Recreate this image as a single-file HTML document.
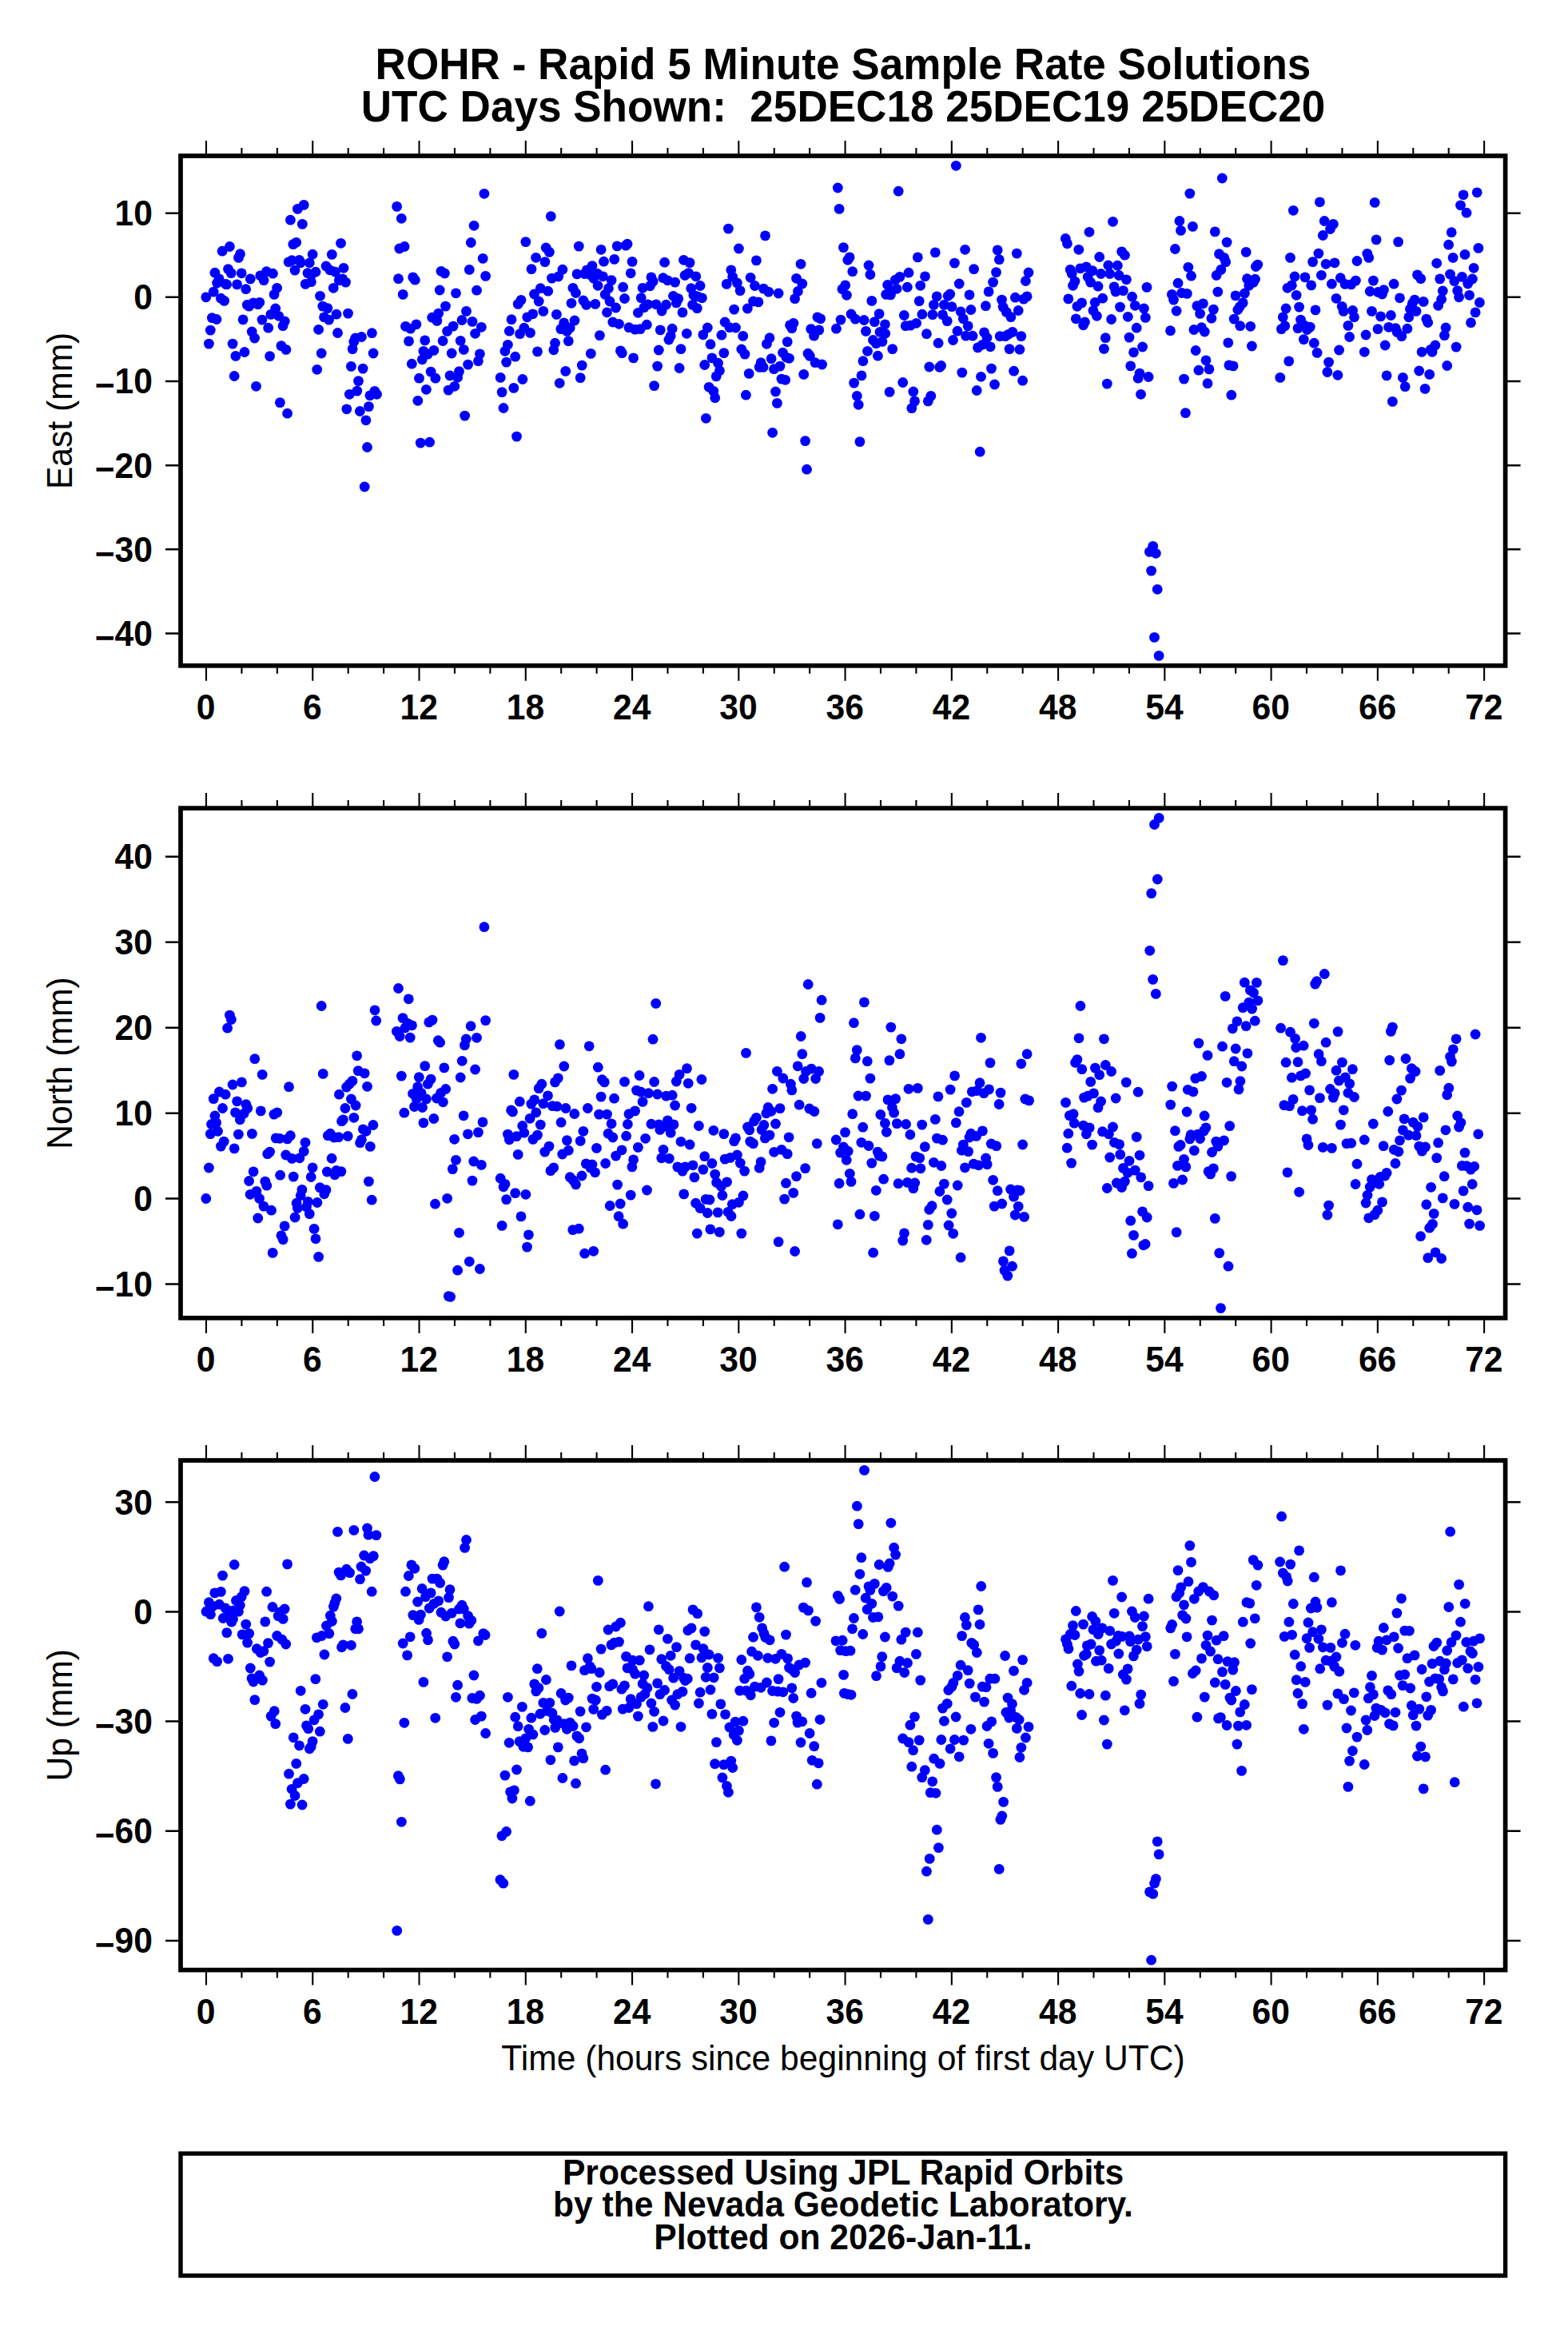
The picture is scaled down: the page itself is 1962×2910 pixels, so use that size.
<!DOCTYPE html>
<html lang="en">
<head>
<meta charset="utf-8">
<title>ROHR - Rapid 5 Minute Sample Rate Solutions</title>
<style>
html,body{margin:0;padding:0;background:#fff;}
body{width:1962px;height:2910px;overflow:hidden;}
svg{display:block;}
text{font-family:"Liberation Sans",sans-serif;fill:#000;}
.b{font-weight:bold;}
.t{font-size:53.1px;font-weight:bold;text-anchor:middle;}
.l{font-size:42.6px;}
.m{text-anchor:middle;}
.e{text-anchor:end;}
.fr{fill:none;stroke:#000;stroke-width:5.7;}
.tk{fill:none;stroke:#000;stroke-width:2.1;}
.d circle{fill:#00f;}
</style>
</head>
<body>
<svg width="1962" height="2910" viewBox="0 0 1962 2910">
<rect x="0" y="0" width="1962" height="2910" fill="#fff"/>
<text class="t" transform="translate(1055.0 98.7) scale(1 1.035)">ROHR - Rapid 5 Minute Sample Rate Solutions</text>
<text class="t" transform="translate(1055.0 151.7) scale(1 1.035)" xml:space="preserve" style="white-space:pre">UTC Days Shown:  25DEC18 25DEC19 25DEC20</text>
<g id="panel1">
<g class="d"><circle cx="257.8" cy="371.8" r="6.4"/><circle cx="261.4" cy="430.1" r="6.4"/><circle cx="263.3" cy="413.1" r="6.4"/><circle cx="265.3" cy="397.6" r="6.4"/><circle cx="267.2" cy="365.1" r="6.4"/><circle cx="268.9" cy="341.2" r="6.4"/><circle cx="271" cy="399.5" r="6.4"/><circle cx="271.6" cy="354" r="6.4"/><circle cx="274.1" cy="348.9" r="6.4"/><circle cx="276.4" cy="373.2" r="6.4"/><circle cx="278.1" cy="314.2" r="6.4"/><circle cx="280.6" cy="376.4" r="6.4"/><circle cx="282.1" cy="355.3" r="6.4"/><circle cx="283.6" cy="355.9" r="6.4"/><circle cx="285.5" cy="336.6" r="6.4"/><circle cx="287.4" cy="308.5" r="6.4"/><circle cx="289.2" cy="341.6" r="6.4"/><circle cx="291.1" cy="430.1" r="6.4"/><circle cx="293.2" cy="470.5" r="6.4"/><circle cx="294.9" cy="445.4" r="6.4"/><circle cx="296.6" cy="355.9" r="6.4"/><circle cx="298.5" cy="322.4" r="6.4"/><circle cx="300.5" cy="317.7" r="6.4"/><circle cx="302.2" cy="341.8" r="6.4"/><circle cx="304.1" cy="399.9" r="6.4"/><circle cx="306" cy="440.5" r="6.4"/><circle cx="307.7" cy="361.7" r="6.4"/><circle cx="309.3" cy="381.4" r="6.4"/><circle cx="311.7" cy="383.1" r="6.4"/><circle cx="313.3" cy="349" r="6.4"/><circle cx="315.2" cy="415" r="6.4"/><circle cx="317.1" cy="378.9" r="6.4"/><circle cx="318.6" cy="423" r="6.4"/><circle cx="320.5" cy="483.3" r="6.4"/><circle cx="322.8" cy="380.8" r="6.4"/><circle cx="324.8" cy="378.3" r="6.4"/><circle cx="325.7" cy="344.8" r="6.4"/><circle cx="328" cy="400.1" r="6.4"/><circle cx="330.1" cy="350.6" r="6.4"/><circle cx="333.4" cy="339.7" r="6.4"/><circle cx="335.7" cy="410.2" r="6.4"/><circle cx="337.6" cy="445.6" r="6.4"/><circle cx="338.9" cy="393.4" r="6.4"/><circle cx="341.4" cy="342.2" r="6.4"/><circle cx="343.1" cy="368.4" r="6.4"/><circle cx="344.7" cy="386" r="6.4"/><circle cx="346.6" cy="360.3" r="6.4"/><circle cx="348.7" cy="395.3" r="6.4"/><circle cx="350.4" cy="503.6" r="6.4"/><circle cx="351.9" cy="432.6" r="6.4"/><circle cx="354" cy="407.7" r="6.4"/><circle cx="356.3" cy="402" r="6.4"/><circle cx="357.9" cy="437.4" r="6.4"/><circle cx="359.6" cy="517.2" r="6.4"/><circle cx="361.1" cy="327.8" r="6.4"/><circle cx="363.4" cy="275.2" r="6.4"/><circle cx="365.3" cy="325.7" r="6.4"/><circle cx="366.8" cy="305.6" r="6.4"/><circle cx="369" cy="338.1" r="6.4"/><circle cx="370.7" cy="303.3" r="6.4"/><circle cx="372.4" cy="261.4" r="6.4"/><circle cx="374.5" cy="325.3" r="6.4"/><circle cx="376.2" cy="328.8" r="6.4"/><circle cx="378.3" cy="280.4" r="6.4"/><circle cx="380.2" cy="256.4" r="6.4"/><circle cx="382.2" cy="355.4" r="6.4"/><circle cx="385" cy="341.6" r="6.4"/><circle cx="387.3" cy="328.8" r="6.4"/><circle cx="389.4" cy="352.7" r="6.4"/><circle cx="389.8" cy="343.5" r="6.4"/><circle cx="391.1" cy="318.2" r="6.4"/><circle cx="395" cy="340.2" r="6.4"/><circle cx="396.7" cy="462.3" r="6.4"/><circle cx="398.6" cy="412.3" r="6.4"/><circle cx="400.5" cy="370.3" r="6.4"/><circle cx="402.2" cy="442" r="6.4"/><circle cx="403.8" cy="383.1" r="6.4"/><circle cx="405.5" cy="396.8" r="6.4"/><circle cx="408" cy="333" r="6.4"/><circle cx="409.9" cy="385.6" r="6.4"/><circle cx="411.6" cy="400.1" r="6.4"/><circle cx="412.8" cy="337.8" r="6.4"/><circle cx="415.3" cy="318.4" r="6.4"/><circle cx="417.2" cy="360.3" r="6.4"/><circle cx="419.5" cy="340.2" r="6.4"/><circle cx="421" cy="393.2" r="6.4"/><circle cx="422.5" cy="416.5" r="6.4"/><circle cx="424.2" cy="350.8" r="6.4"/><circle cx="426.5" cy="304.3" r="6.4"/><circle cx="428.6" cy="348.9" r="6.4"/><circle cx="430" cy="335.3" r="6.4"/><circle cx="432.5" cy="353.1" r="6.4"/><circle cx="433.8" cy="511.8" r="6.4"/><circle cx="435.5" cy="392.1" r="6.4"/><circle cx="437.3" cy="493.3" r="6.4"/><circle cx="439.4" cy="458.4" r="6.4"/><circle cx="441.1" cy="436.6" r="6.4"/><circle cx="442.8" cy="427.4" r="6.4"/><circle cx="444.7" cy="423" r="6.4"/><circle cx="446.8" cy="489.1" r="6.4"/><circle cx="448.5" cy="476.6" r="6.4"/><circle cx="450.3" cy="514.5" r="6.4"/><circle cx="452.4" cy="421.5" r="6.4"/><circle cx="454.1" cy="461.1" r="6.4"/><circle cx="456.2" cy="609" r="6.4"/><circle cx="457.9" cy="525.8" r="6.4"/><circle cx="459.5" cy="559.5" r="6.4"/><circle cx="461.4" cy="508.6" r="6.4"/><circle cx="462.9" cy="494.8" r="6.4"/><circle cx="465.4" cy="416.7" r="6.4"/><circle cx="467.1" cy="442" r="6.4"/><circle cx="468.8" cy="489.4" r="6.4"/><circle cx="471.5" cy="493.3" r="6.4"/><circle cx="496.6" cy="258.4" r="6.4"/><circle cx="498.5" cy="348.7" r="6.4"/><circle cx="499.8" cy="311" r="6.4"/><circle cx="502.3" cy="273.3" r="6.4"/><circle cx="504.2" cy="368.4" r="6.4"/><circle cx="506.1" cy="308.5" r="6.4"/><circle cx="507.5" cy="408.3" r="6.4"/><circle cx="511.5" cy="426.9" r="6.4"/><circle cx="513.6" cy="411.2" r="6.4"/><circle cx="515.3" cy="455.2" r="6.4"/><circle cx="516.7" cy="346.9" r="6.4"/><circle cx="519.3" cy="350.2" r="6.4"/><circle cx="520.9" cy="405.8" r="6.4"/><circle cx="522.8" cy="501.3" r="6.4"/><circle cx="524.5" cy="473.2" r="6.4"/><circle cx="526.2" cy="554.1" r="6.4"/><circle cx="528.3" cy="449.8" r="6.4"/><circle cx="529.9" cy="439.3" r="6.4"/><circle cx="531.7" cy="425.9" r="6.4"/><circle cx="533.4" cy="487.3" r="6.4"/><circle cx="535.3" cy="443.1" r="6.4"/><circle cx="537.6" cy="553.2" r="6.4"/><circle cx="539.1" cy="465.1" r="6.4"/><circle cx="540.7" cy="397.2" r="6.4"/><circle cx="542.8" cy="438.4" r="6.4"/><circle cx="544.9" cy="473.2" r="6.4"/><circle cx="546.8" cy="401.4" r="6.4"/><circle cx="548.7" cy="392.1" r="6.4"/><circle cx="550.2" cy="363" r="6.4"/><circle cx="552" cy="339.3" r="6.4"/><circle cx="554.1" cy="426.5" r="6.4"/><circle cx="556.4" cy="342" r="6.4"/><circle cx="557.5" cy="383.1" r="6.4"/><circle cx="559.6" cy="414.4" r="6.4"/><circle cx="561.1" cy="488.1" r="6.4"/><circle cx="563" cy="469.9" r="6.4"/><circle cx="565.2" cy="442" r="6.4"/><circle cx="567.1" cy="408.1" r="6.4"/><circle cx="568.8" cy="483.3" r="6.4"/><circle cx="570.5" cy="366.8" r="6.4"/><circle cx="572.6" cy="472.2" r="6.4"/><circle cx="574.5" cy="464.6" r="6.4"/><circle cx="576.2" cy="426.3" r="6.4"/><circle cx="578" cy="400.5" r="6.4"/><circle cx="580.3" cy="437.4" r="6.4"/><circle cx="581.6" cy="520.1" r="6.4"/><circle cx="583.5" cy="389.4" r="6.4"/><circle cx="585.6" cy="456.1" r="6.4"/><circle cx="587.3" cy="337.4" r="6.4"/><circle cx="589.3" cy="303.5" r="6.4"/><circle cx="591" cy="402.4" r="6.4"/><circle cx="593.1" cy="282.3" r="6.4"/><circle cx="594.6" cy="417.3" r="6.4"/><circle cx="596.5" cy="363.2" r="6.4"/><circle cx="598.4" cy="451.7" r="6.4"/><circle cx="600.4" cy="442.8" r="6.4"/><circle cx="602.3" cy="409.3" r="6.4"/><circle cx="604.2" cy="323.4" r="6.4"/><circle cx="605.9" cy="242.3" r="6.4"/><circle cx="607.6" cy="345.4" r="6.4"/><circle cx="626.2" cy="472.4" r="6.4"/><circle cx="628.1" cy="490.6" r="6.4"/><circle cx="630" cy="510.5" r="6.4"/><circle cx="631.9" cy="439.3" r="6.4"/><circle cx="633.6" cy="453.1" r="6.4"/><circle cx="635.4" cy="431.3" r="6.4"/><circle cx="637.3" cy="414.2" r="6.4"/><circle cx="640" cy="399.7" r="6.4"/><circle cx="642.8" cy="485.4" r="6.4"/><circle cx="644.7" cy="446.2" r="6.4"/><circle cx="646.5" cy="546.1" r="6.4"/><circle cx="648.2" cy="380.4" r="6.4"/><circle cx="650.5" cy="417.7" r="6.4"/><circle cx="652" cy="375.4" r="6.4"/><circle cx="653.9" cy="474.5" r="6.4"/><circle cx="655.8" cy="410.2" r="6.4"/><circle cx="657.8" cy="302.6" r="6.4"/><circle cx="659.7" cy="396.8" r="6.4"/><circle cx="663.5" cy="416.4" r="6.4"/><circle cx="665" cy="336.6" r="6.4"/><circle cx="666.7" cy="392.8" r="6.4"/><circle cx="668.5" cy="368" r="6.4"/><circle cx="670.6" cy="322.3" r="6.4"/><circle cx="672.5" cy="439.9" r="6.4"/><circle cx="674.2" cy="377" r="6.4"/><circle cx="676.3" cy="360.7" r="6.4"/><circle cx="679.8" cy="389.4" r="6.4"/><circle cx="681.9" cy="327.6" r="6.4"/><circle cx="683.2" cy="310" r="6.4"/><circle cx="685.7" cy="364.2" r="6.4"/><circle cx="687.4" cy="315.4" r="6.4"/><circle cx="689.3" cy="270.6" r="6.4"/><circle cx="690.5" cy="348.1" r="6.4"/><circle cx="692.8" cy="437.8" r="6.4"/><circle cx="694.5" cy="429.2" r="6.4"/><circle cx="696.4" cy="393.4" r="6.4"/><circle cx="698.7" cy="346" r="6.4"/><circle cx="700.2" cy="479.3" r="6.4"/><circle cx="701.8" cy="411.6" r="6.4"/><circle cx="703.9" cy="337.2" r="6.4"/><circle cx="705.6" cy="403.9" r="6.4"/><circle cx="707.7" cy="464.4" r="6.4"/><circle cx="709.4" cy="414.4" r="6.4"/><circle cx="711.3" cy="426.7" r="6.4"/><circle cx="713.2" cy="410.2" r="6.4"/><circle cx="715" cy="379.3" r="6.4"/><circle cx="716.9" cy="360.3" r="6.4"/><circle cx="719" cy="401" r="6.4"/><circle cx="720.5" cy="366.5" r="6.4"/><circle cx="722" cy="342.9" r="6.4"/><circle cx="724.3" cy="308.1" r="6.4"/><circle cx="726.2" cy="472.6" r="6.4"/><circle cx="728.2" cy="457.1" r="6.4"/><circle cx="729.9" cy="376" r="6.4"/><circle cx="731.4" cy="342.5" r="6.4"/><circle cx="733.7" cy="381.4" r="6.4"/><circle cx="734.3" cy="337.8" r="6.4"/><circle cx="738.1" cy="343.5" r="6.4"/><circle cx="739.3" cy="442.4" r="6.4"/><circle cx="741" cy="332.6" r="6.4"/><circle cx="742.9" cy="348.3" r="6.4"/><circle cx="744.8" cy="380.4" r="6.4"/><circle cx="747.7" cy="342.5" r="6.4"/><circle cx="748.1" cy="357.3" r="6.4"/><circle cx="750.4" cy="419.6" r="6.4"/><circle cx="752.1" cy="312.3" r="6.4"/><circle cx="754.4" cy="345.8" r="6.4"/><circle cx="755.5" cy="327.2" r="6.4"/><circle cx="757.2" cy="368.4" r="6.4"/><circle cx="759.5" cy="390.8" r="6.4"/><circle cx="761.5" cy="360.7" r="6.4"/><circle cx="763" cy="377" r="6.4"/><circle cx="765.1" cy="350.6" r="6.4"/><circle cx="766.8" cy="403" r="6.4"/><circle cx="768.7" cy="324.4" r="6.4"/><circle cx="770.6" cy="385" r="6.4"/><circle cx="772.2" cy="307.9" r="6.4"/><circle cx="774.5" cy="405.3" r="6.4"/><circle cx="776.4" cy="438.9" r="6.4"/><circle cx="778.3" cy="441.6" r="6.4"/><circle cx="779.6" cy="359.2" r="6.4"/><circle cx="781.5" cy="373.5" r="6.4"/><circle cx="783.1" cy="307.1" r="6.4"/><circle cx="785" cy="305.2" r="6.4"/><circle cx="786.9" cy="409.7" r="6.4"/><circle cx="789.2" cy="341.8" r="6.4"/><circle cx="791.1" cy="327.4" r="6.4"/><circle cx="792.6" cy="447.9" r="6.4"/><circle cx="794.6" cy="412.1" r="6.4"/><circle cx="798.4" cy="391.3" r="6.4"/><circle cx="801.2" cy="411.6" r="6.4"/><circle cx="802.2" cy="372.6" r="6.4"/><circle cx="804.1" cy="360.3" r="6.4"/><circle cx="806" cy="384.6" r="6.4"/><circle cx="809.3" cy="406.2" r="6.4"/><circle cx="810.8" cy="380.8" r="6.4"/><circle cx="813.4" cy="357.8" r="6.4"/><circle cx="814.9" cy="346.9" r="6.4"/><circle cx="817.2" cy="352.1" r="6.4"/><circle cx="818.6" cy="482.6" r="6.4"/><circle cx="821" cy="380.8" r="6.4"/><circle cx="822.6" cy="458.1" r="6.4"/><circle cx="824.3" cy="438" r="6.4"/><circle cx="826.2" cy="412.9" r="6.4"/><circle cx="828.1" cy="389" r="6.4"/><circle cx="829.7" cy="347.7" r="6.4"/><circle cx="831.6" cy="328.2" r="6.4"/><circle cx="833.5" cy="381.2" r="6.4"/><circle cx="835.4" cy="350.8" r="6.4"/><circle cx="836.9" cy="425" r="6.4"/><circle cx="839.2" cy="420.2" r="6.4"/><circle cx="841.1" cy="411.2" r="6.4"/><circle cx="842.5" cy="370.3" r="6.4"/><circle cx="844.6" cy="353.1" r="6.4"/><circle cx="846.3" cy="378.9" r="6.4"/><circle cx="848.8" cy="373.7" r="6.4"/><circle cx="850.1" cy="460.5" r="6.4"/><circle cx="852" cy="436.6" r="6.4"/><circle cx="854" cy="390.9" r="6.4"/><circle cx="855.5" cy="325.3" r="6.4"/><circle cx="857" cy="344.5" r="6.4"/><circle cx="859.3" cy="417.3" r="6.4"/><circle cx="861.6" cy="341.6" r="6.4"/><circle cx="863.1" cy="328.6" r="6.4"/><circle cx="864.7" cy="360.7" r="6.4"/><circle cx="866.6" cy="381.4" r="6.4"/><circle cx="867.9" cy="369.3" r="6.4"/><circle cx="870.8" cy="345.8" r="6.4"/><circle cx="872.3" cy="385.6" r="6.4"/><circle cx="872.7" cy="370.9" r="6.4"/><circle cx="876.1" cy="357.5" r="6.4"/><circle cx="878.4" cy="372.8" r="6.4"/><circle cx="879.8" cy="418.8" r="6.4"/><circle cx="881.7" cy="456.5" r="6.4"/><circle cx="883.4" cy="523.3" r="6.4"/><circle cx="885.3" cy="410" r="6.4"/><circle cx="887.1" cy="484.3" r="6.4"/><circle cx="889" cy="430.7" r="6.4"/><circle cx="890.9" cy="447.9" r="6.4"/><circle cx="892.8" cy="489.4" r="6.4"/><circle cx="894.7" cy="497.7" r="6.4"/><circle cx="896.2" cy="470.9" r="6.4"/><circle cx="898.5" cy="454.2" r="6.4"/><circle cx="900.4" cy="463.8" r="6.4"/><circle cx="902.9" cy="419.2" r="6.4"/><circle cx="905.8" cy="441.6" r="6.4"/><circle cx="907.1" cy="403" r="6.4"/><circle cx="909.2" cy="355.4" r="6.4"/><circle cx="911.4" cy="286.1" r="6.4"/><circle cx="912.9" cy="409.7" r="6.4"/><circle cx="914.8" cy="337.8" r="6.4"/><circle cx="916.7" cy="346.4" r="6.4"/><circle cx="918.6" cy="387.1" r="6.4"/><circle cx="920.5" cy="410" r="6.4"/><circle cx="922.4" cy="354" r="6.4"/><circle cx="924.4" cy="311" r="6.4"/><circle cx="926.1" cy="363.6" r="6.4"/><circle cx="927.8" cy="437" r="6.4"/><circle cx="929.7" cy="420.4" r="6.4"/><circle cx="932" cy="443.1" r="6.4"/><circle cx="933.4" cy="494.2" r="6.4"/><circle cx="935.3" cy="386" r="6.4"/><circle cx="937.2" cy="467.4" r="6.4"/><circle cx="939.1" cy="347.3" r="6.4"/><circle cx="942.5" cy="377" r="6.4"/><circle cx="944.5" cy="357.5" r="6.4"/><circle cx="946.4" cy="325.9" r="6.4"/><circle cx="948.9" cy="377.9" r="6.4"/><circle cx="950.2" cy="459.4" r="6.4"/><circle cx="952.1" cy="453.7" r="6.4"/><circle cx="955" cy="459.4" r="6.4"/><circle cx="955.4" cy="361.1" r="6.4"/><circle cx="957.5" cy="294.9" r="6.4"/><circle cx="959.4" cy="430.3" r="6.4"/><circle cx="961.7" cy="365.1" r="6.4"/><circle cx="963" cy="422.7" r="6.4"/><circle cx="965.1" cy="448.7" r="6.4"/><circle cx="966.6" cy="541.3" r="6.4"/><circle cx="968.4" cy="461.7" r="6.4"/><circle cx="970.5" cy="490" r="6.4"/><circle cx="972.4" cy="504.4" r="6.4"/><circle cx="974.1" cy="367" r="6.4"/><circle cx="976" cy="458.1" r="6.4"/><circle cx="977.9" cy="474.1" r="6.4"/><circle cx="979.5" cy="441.2" r="6.4"/><circle cx="982.7" cy="475.3" r="6.4"/><circle cx="983.7" cy="447" r="6.4"/><circle cx="985.2" cy="427.6" r="6.4"/><circle cx="987.5" cy="448.3" r="6.4"/><circle cx="988.5" cy="406.8" r="6.4"/><circle cx="990.8" cy="410.6" r="6.4"/><circle cx="992.9" cy="404.3" r="6.4"/><circle cx="994.6" cy="373.7" r="6.4"/><circle cx="996.5" cy="348.3" r="6.4"/><circle cx="998.4" cy="364.5" r="6.4"/><circle cx="1002" cy="330.3" r="6.4"/><circle cx="1003.8" cy="355" r="6.4"/><circle cx="1005.7" cy="468.4" r="6.4"/><circle cx="1007.6" cy="551.6" r="6.4"/><circle cx="1009.5" cy="587.2" r="6.4"/><circle cx="1011" cy="442.2" r="6.4"/><circle cx="1013.3" cy="445.4" r="6.4"/><circle cx="1014.7" cy="411.6" r="6.4"/><circle cx="1018.5" cy="420.2" r="6.4"/><circle cx="1020" cy="453.7" r="6.4"/><circle cx="1022.9" cy="396.8" r="6.4"/><circle cx="1024.8" cy="412.9" r="6.4"/><circle cx="1026.7" cy="398.8" r="6.4"/><circle cx="1028.6" cy="456" r="6.4"/><circle cx="1046.4" cy="411.2" r="6.4"/><circle cx="1048.3" cy="235" r="6.4"/><circle cx="1050.1" cy="261.4" r="6.4"/><circle cx="1052" cy="400.1" r="6.4"/><circle cx="1053.9" cy="361.7" r="6.4"/><circle cx="1055.4" cy="309.6" r="6.4"/><circle cx="1057.7" cy="356.9" r="6.4"/><circle cx="1059.4" cy="369.3" r="6.4"/><circle cx="1060.8" cy="325.3" r="6.4"/><circle cx="1063.1" cy="321.9" r="6.4"/><circle cx="1065" cy="393" r="6.4"/><circle cx="1066.7" cy="339.7" r="6.4"/><circle cx="1068.6" cy="479.1" r="6.4"/><circle cx="1070.2" cy="399.1" r="6.4"/><circle cx="1072.3" cy="495.4" r="6.4"/><circle cx="1074.2" cy="506.3" r="6.4"/><circle cx="1075.9" cy="552.6" r="6.4"/><circle cx="1078" cy="469.9" r="6.4"/><circle cx="1079.9" cy="451.7" r="6.4"/><circle cx="1081.2" cy="400.5" r="6.4"/><circle cx="1083.5" cy="414.4" r="6.4"/><circle cx="1085.5" cy="439.3" r="6.4"/><circle cx="1087" cy="332" r="6.4"/><circle cx="1088.9" cy="343.5" r="6.4"/><circle cx="1090.8" cy="376.4" r="6.4"/><circle cx="1092.4" cy="425.5" r="6.4"/><circle cx="1094.3" cy="402.6" r="6.4"/><circle cx="1096.3" cy="429.7" r="6.4"/><circle cx="1098.4" cy="445.2" r="6.4"/><circle cx="1100.1" cy="392.6" r="6.4"/><circle cx="1101" cy="415.4" r="6.4"/><circle cx="1103.9" cy="427.4" r="6.4"/><circle cx="1107.4" cy="405.8" r="6.4"/><circle cx="1107.7" cy="417.3" r="6.4"/><circle cx="1108.7" cy="368.4" r="6.4"/><circle cx="1110.6" cy="356.5" r="6.4"/><circle cx="1113.1" cy="490.4" r="6.4"/><circle cx="1114.4" cy="368.9" r="6.4"/><circle cx="1115.4" cy="364.5" r="6.4"/><circle cx="1116.7" cy="436.6" r="6.4"/><circle cx="1120.2" cy="350.2" r="6.4"/><circle cx="1122.1" cy="361.3" r="6.4"/><circle cx="1124.2" cy="239.2" r="6.4"/><circle cx="1125.9" cy="346.4" r="6.4"/><circle cx="1129.7" cy="478.5" r="6.4"/><circle cx="1131.3" cy="394.5" r="6.4"/><circle cx="1133.2" cy="407.7" r="6.4"/><circle cx="1135.3" cy="359.2" r="6.4"/><circle cx="1137" cy="341.2" r="6.4"/><circle cx="1139.3" cy="407.2" r="6.4"/><circle cx="1140.8" cy="510.7" r="6.4"/><circle cx="1142.8" cy="490" r="6.4"/><circle cx="1144.5" cy="501.9" r="6.4"/><circle cx="1146.6" cy="404.3" r="6.4"/><circle cx="1148.3" cy="321.9" r="6.4"/><circle cx="1150.2" cy="376.6" r="6.4"/><circle cx="1151.7" cy="357.3" r="6.4"/><circle cx="1153.9" cy="393.2" r="6.4"/><circle cx="1157.5" cy="345.8" r="6.4"/><circle cx="1159.4" cy="417.7" r="6.4"/><circle cx="1161.3" cy="501.9" r="6.4"/><circle cx="1162.8" cy="459" r="6.4"/><circle cx="1164.8" cy="495.4" r="6.4"/><circle cx="1166.9" cy="393.6" r="6.4"/><circle cx="1168.4" cy="381.4" r="6.4"/><circle cx="1170.3" cy="315.9" r="6.4"/><circle cx="1172.2" cy="370.9" r="6.4"/><circle cx="1174.1" cy="429.2" r="6.4"/><circle cx="1175.7" cy="459.4" r="6.4"/><circle cx="1177.6" cy="457.5" r="6.4"/><circle cx="1179.5" cy="393.8" r="6.4"/><circle cx="1181.4" cy="381.4" r="6.4"/><circle cx="1185.2" cy="401.6" r="6.4"/><circle cx="1186.2" cy="370.3" r="6.4"/><circle cx="1188.7" cy="368" r="6.4"/><circle cx="1191" cy="383.7" r="6.4"/><circle cx="1192.5" cy="425.5" r="6.4"/><circle cx="1194.4" cy="329.1" r="6.4"/><circle cx="1196.3" cy="207.3" r="6.4"/><circle cx="1198" cy="414.2" r="6.4"/><circle cx="1200.2" cy="355" r="6.4"/><circle cx="1202.1" cy="389.8" r="6.4"/><circle cx="1203.8" cy="466.1" r="6.4"/><circle cx="1205.3" cy="398.8" r="6.4"/><circle cx="1207.6" cy="312.3" r="6.4"/><circle cx="1208.6" cy="420.2" r="6.4"/><circle cx="1211.2" cy="407.9" r="6.4"/><circle cx="1213" cy="368.9" r="6.4"/><circle cx="1214.9" cy="387.5" r="6.4"/><circle cx="1217" cy="420.2" r="6.4"/><circle cx="1218.6" cy="336.6" r="6.4"/><circle cx="1222.2" cy="488.5" r="6.4"/><circle cx="1223.5" cy="434.9" r="6.4"/><circle cx="1226.2" cy="565.2" r="6.4"/><circle cx="1227.5" cy="471.3" r="6.4"/><circle cx="1229.2" cy="431.3" r="6.4"/><circle cx="1231.5" cy="415.8" r="6.4"/><circle cx="1233.4" cy="382.7" r="6.4"/><circle cx="1235" cy="422.5" r="6.4"/><circle cx="1237.1" cy="364.9" r="6.4"/><circle cx="1239.2" cy="433.8" r="6.4"/><circle cx="1240.5" cy="461.1" r="6.4"/><circle cx="1242.6" cy="353.1" r="6.4"/><circle cx="1244.5" cy="481" r="6.4"/><circle cx="1246.5" cy="340.6" r="6.4"/><circle cx="1248.2" cy="312.9" r="6.4"/><circle cx="1250.3" cy="324.7" r="6.4"/><circle cx="1251.2" cy="420.6" r="6.4"/><circle cx="1253.5" cy="375.1" r="6.4"/><circle cx="1255.1" cy="384.1" r="6.4"/><circle cx="1257.9" cy="420.6" r="6.4"/><circle cx="1259.3" cy="390.4" r="6.4"/><circle cx="1261.8" cy="418.3" r="6.4"/><circle cx="1263.1" cy="436.6" r="6.4"/><circle cx="1264.9" cy="396.6" r="6.4"/><circle cx="1266.9" cy="415.4" r="6.4"/><circle cx="1268.6" cy="464.2" r="6.4"/><circle cx="1270.4" cy="372.2" r="6.4"/><circle cx="1272.3" cy="317.1" r="6.4"/><circle cx="1274.2" cy="388.5" r="6.4"/><circle cx="1275.9" cy="437.2" r="6.4"/><circle cx="1277.8" cy="420.6" r="6.4"/><circle cx="1279.6" cy="476.2" r="6.4"/><circle cx="1280.9" cy="374.1" r="6.4"/><circle cx="1283.4" cy="351.5" r="6.4"/><circle cx="1285.1" cy="370.9" r="6.4"/><circle cx="1287" cy="341" r="6.4"/><circle cx="1333.3" cy="298.5" r="6.4"/><circle cx="1335.4" cy="304.8" r="6.4"/><circle cx="1336.8" cy="373.9" r="6.4"/><circle cx="1339.2" cy="337.4" r="6.4"/><circle cx="1341.2" cy="342.5" r="6.4"/><circle cx="1342.5" cy="357.3" r="6.4"/><circle cx="1345" cy="352.1" r="6.4"/><circle cx="1346.3" cy="398.8" r="6.4"/><circle cx="1347.9" cy="383.3" r="6.4"/><circle cx="1349.8" cy="312.3" r="6.4"/><circle cx="1351.7" cy="335.8" r="6.4"/><circle cx="1353.6" cy="378.9" r="6.4"/><circle cx="1355.5" cy="406.8" r="6.4"/><circle cx="1357.4" cy="403" r="6.4"/><circle cx="1359.3" cy="333.9" r="6.4"/><circle cx="1361.2" cy="346.4" r="6.4"/><circle cx="1363" cy="290.3" r="6.4"/><circle cx="1364.5" cy="353.1" r="6.4"/><circle cx="1367" cy="338.7" r="6.4"/><circle cx="1367.9" cy="388.5" r="6.4"/><circle cx="1370.2" cy="378.3" r="6.4"/><circle cx="1372.4" cy="395.3" r="6.4"/><circle cx="1374" cy="358.2" r="6.4"/><circle cx="1375.7" cy="321.5" r="6.4"/><circle cx="1377.6" cy="342.5" r="6.4"/><circle cx="1379.7" cy="373.2" r="6.4"/><circle cx="1381.4" cy="436.4" r="6.4"/><circle cx="1383.3" cy="422.7" r="6.4"/><circle cx="1385.3" cy="480.1" r="6.4"/><circle cx="1386.8" cy="332" r="6.4"/><circle cx="1388.7" cy="342.5" r="6.4"/><circle cx="1390.6" cy="399.5" r="6.4"/><circle cx="1392.5" cy="277.3" r="6.4"/><circle cx="1394.1" cy="358.8" r="6.4"/><circle cx="1396" cy="364.9" r="6.4"/><circle cx="1398.3" cy="332.2" r="6.4"/><circle cx="1400.2" cy="344.5" r="6.4"/><circle cx="1401.5" cy="384.1" r="6.4"/><circle cx="1403.6" cy="314.8" r="6.4"/><circle cx="1405.5" cy="363.6" r="6.4"/><circle cx="1407.4" cy="319.2" r="6.4"/><circle cx="1409.4" cy="349.8" r="6.4"/><circle cx="1411.3" cy="396.3" r="6.4"/><circle cx="1413" cy="422.1" r="6.4"/><circle cx="1414.7" cy="457.9" r="6.4"/><circle cx="1416.6" cy="371.2" r="6.4"/><circle cx="1418.5" cy="440.8" r="6.4"/><circle cx="1420.3" cy="382.3" r="6.4"/><circle cx="1422.2" cy="410.2" r="6.4"/><circle cx="1424.1" cy="473.2" r="6.4"/><circle cx="1426" cy="467.1" r="6.4"/><circle cx="1427.5" cy="493.3" r="6.4"/><circle cx="1429.6" cy="434" r="6.4"/><circle cx="1431.4" cy="386" r="6.4"/><circle cx="1433.3" cy="397.4" r="6.4"/><circle cx="1435" cy="359.4" r="6.4"/><circle cx="1437.1" cy="471.5" r="6.4"/><circle cx="1438.4" cy="690.4" r="6.4"/><circle cx="1440.6" cy="714.1" r="6.4"/><circle cx="1442.7" cy="683.4" r="6.4"/><circle cx="1444.5" cy="797.4" r="6.4"/><circle cx="1446.3" cy="692.3" r="6.4"/><circle cx="1448.2" cy="737.3" r="6.4"/><circle cx="1450.1" cy="820.4" r="6.4"/><circle cx="1464.5" cy="413.7" r="6.4"/><circle cx="1466.4" cy="368.4" r="6.4"/><circle cx="1468.5" cy="375.1" r="6.4"/><circle cx="1470.4" cy="311.5" r="6.4"/><circle cx="1472.1" cy="389" r="6.4"/><circle cx="1474" cy="354.2" r="6.4"/><circle cx="1475.9" cy="276.5" r="6.4"/><circle cx="1477.5" cy="288.4" r="6.4"/><circle cx="1478.6" cy="366.5" r="6.4"/><circle cx="1481.5" cy="474.1" r="6.4"/><circle cx="1483.4" cy="516.6" r="6.4"/><circle cx="1485.3" cy="367.4" r="6.4"/><circle cx="1486.8" cy="334.3" r="6.4"/><circle cx="1488.8" cy="242.1" r="6.4"/><circle cx="1490.5" cy="345.2" r="6.4"/><circle cx="1492.4" cy="283.4" r="6.4"/><circle cx="1493.9" cy="412.5" r="6.4"/><circle cx="1496.2" cy="438.5" r="6.4"/><circle cx="1497.8" cy="382.7" r="6.4"/><circle cx="1499.9" cy="463.2" r="6.4"/><circle cx="1501.6" cy="392.4" r="6.4"/><circle cx="1503.5" cy="409.7" r="6.4"/><circle cx="1505.4" cy="379.8" r="6.4"/><circle cx="1507.3" cy="415" r="6.4"/><circle cx="1509" cy="450.8" r="6.4"/><circle cx="1511" cy="479.7" r="6.4"/><circle cx="1512.9" cy="461.9" r="6.4"/><circle cx="1515.9" cy="398.2" r="6.4"/><circle cx="1518.4" cy="387.1" r="6.4"/><circle cx="1520.3" cy="289.9" r="6.4"/><circle cx="1522.1" cy="344.5" r="6.4"/><circle cx="1523.8" cy="365.1" r="6.4"/><circle cx="1525.5" cy="317.7" r="6.4"/><circle cx="1527.8" cy="337.4" r="6.4"/><circle cx="1529.3" cy="223" r="6.4"/><circle cx="1531.6" cy="322.4" r="6.4"/><circle cx="1533.7" cy="327.8" r="6.4"/><circle cx="1535.1" cy="303.1" r="6.4"/><circle cx="1536.8" cy="428.8" r="6.4"/><circle cx="1537.9" cy="456.9" r="6.4"/><circle cx="1540.8" cy="494.2" r="6.4"/><circle cx="1543.1" cy="457.9" r="6.4"/><circle cx="1544.2" cy="399.1" r="6.4"/><circle cx="1546" cy="369.9" r="6.4"/><circle cx="1548.8" cy="387.5" r="6.4"/><circle cx="1551.3" cy="383.7" r="6.4"/><circle cx="1551.7" cy="407.7" r="6.4"/><circle cx="1555.2" cy="378.9" r="6.4"/><circle cx="1557.4" cy="367" r="6.4"/><circle cx="1559.2" cy="315.4" r="6.4"/><circle cx="1560.5" cy="348.7" r="6.4"/><circle cx="1562.8" cy="357.3" r="6.4"/><circle cx="1564.7" cy="408.3" r="6.4"/><circle cx="1566.4" cy="433" r="6.4"/><circle cx="1568.5" cy="353.1" r="6.4"/><circle cx="1570.5" cy="349.2" r="6.4"/><circle cx="1571.4" cy="333.5" r="6.4"/><circle cx="1573.7" cy="331.1" r="6.4"/><circle cx="1601.8" cy="472.4" r="6.4"/><circle cx="1603.4" cy="411.6" r="6.4"/><circle cx="1605.3" cy="396.8" r="6.4"/><circle cx="1607.8" cy="407.7" r="6.4"/><circle cx="1609.1" cy="386" r="6.4"/><circle cx="1611" cy="360.3" r="6.4"/><circle cx="1612.7" cy="451.9" r="6.4"/><circle cx="1614.5" cy="322.4" r="6.4"/><circle cx="1616.4" cy="356.9" r="6.4"/><circle cx="1618.3" cy="263.3" r="6.4"/><circle cx="1620" cy="346" r="6.4"/><circle cx="1622.1" cy="369.3" r="6.4"/><circle cx="1624" cy="410.6" r="6.4"/><circle cx="1625.6" cy="384.1" r="6.4"/><circle cx="1627.5" cy="400.1" r="6.4"/><circle cx="1631.3" cy="424.6" r="6.4"/><circle cx="1631.7" cy="406.8" r="6.4"/><circle cx="1633" cy="346.9" r="6.4"/><circle cx="1635.5" cy="412.5" r="6.4"/><circle cx="1639.3" cy="409.1" r="6.4"/><circle cx="1640.7" cy="356.9" r="6.4"/><circle cx="1642.6" cy="327.6" r="6.4"/><circle cx="1644.3" cy="429.2" r="6.4"/><circle cx="1646" cy="387.9" r="6.4"/><circle cx="1648.1" cy="441.4" r="6.4"/><circle cx="1649.9" cy="317.1" r="6.4"/><circle cx="1651.4" cy="252.8" r="6.4"/><circle cx="1653.4" cy="344.3" r="6.4"/><circle cx="1655.3" cy="294.5" r="6.4"/><circle cx="1657.2" cy="276.5" r="6.4"/><circle cx="1659.1" cy="330.3" r="6.4"/><circle cx="1660.9" cy="465.5" r="6.4"/><circle cx="1662.6" cy="453.1" r="6.4"/><circle cx="1664.5" cy="286.5" r="6.4"/><circle cx="1666.4" cy="355.2" r="6.4"/><circle cx="1668.3" cy="280.4" r="6.4"/><circle cx="1670" cy="328.8" r="6.4"/><circle cx="1672" cy="373.3" r="6.4"/><circle cx="1673.9" cy="469.3" r="6.4"/><circle cx="1675.6" cy="438" r="6.4"/><circle cx="1677.3" cy="347.7" r="6.4"/><circle cx="1679.2" cy="383.3" r="6.4"/><circle cx="1681.1" cy="389.4" r="6.4"/><circle cx="1683" cy="355.4" r="6.4"/><circle cx="1686.9" cy="407.4" r="6.4"/><circle cx="1688.6" cy="421.5" r="6.4"/><circle cx="1690.7" cy="355.9" r="6.4"/><circle cx="1692.6" cy="388.5" r="6.4"/><circle cx="1694.5" cy="396.8" r="6.4"/><circle cx="1696.4" cy="351.1" r="6.4"/><circle cx="1698" cy="326.5" r="6.4"/><circle cx="1707.3" cy="440.3" r="6.4"/><circle cx="1709.1" cy="419" r="6.4"/><circle cx="1710.8" cy="317.3" r="6.4"/><circle cx="1712.7" cy="322.4" r="6.4"/><circle cx="1714.2" cy="364.5" r="6.4"/><circle cx="1716.5" cy="389.4" r="6.4"/><circle cx="1718.4" cy="351.1" r="6.4"/><circle cx="1720.2" cy="253.4" r="6.4"/><circle cx="1722.1" cy="299.9" r="6.4"/><circle cx="1724" cy="411.6" r="6.4"/><circle cx="1724.2" cy="365.5" r="6.4"/><circle cx="1727.6" cy="395.9" r="6.4"/><circle cx="1729.5" cy="368" r="6.4"/><circle cx="1731.5" cy="362.6" r="6.4"/><circle cx="1733.2" cy="432" r="6.4"/><circle cx="1735.1" cy="469.9" r="6.4"/><circle cx="1737.6" cy="409.3" r="6.4"/><circle cx="1740.4" cy="394.5" r="6.4"/><circle cx="1742.4" cy="502.4" r="6.4"/><circle cx="1744.1" cy="355.2" r="6.4"/><circle cx="1746.2" cy="410.6" r="6.4"/><circle cx="1748.1" cy="415.4" r="6.4"/><circle cx="1749.6" cy="302.6" r="6.4"/><circle cx="1751.5" cy="372.8" r="6.4"/><circle cx="1753.8" cy="420.6" r="6.4"/><circle cx="1755.4" cy="472.4" r="6.4"/><circle cx="1758.2" cy="483.7" r="6.4"/><circle cx="1760.9" cy="411.2" r="6.4"/><circle cx="1762.8" cy="396.8" r="6.4"/><circle cx="1764.4" cy="386.5" r="6.4"/><circle cx="1767.2" cy="379.8" r="6.4"/><circle cx="1770.1" cy="375.1" r="6.4"/><circle cx="1772" cy="389.4" r="6.4"/><circle cx="1773.5" cy="343.9" r="6.4"/><circle cx="1775.7" cy="464" r="6.4"/><circle cx="1777.8" cy="348.7" r="6.4"/><circle cx="1779.1" cy="440.3" r="6.4"/><circle cx="1781.2" cy="377.4" r="6.4"/><circle cx="1783.1" cy="486.4" r="6.4"/><circle cx="1784.8" cy="399.1" r="6.4"/><circle cx="1786.7" cy="403.5" r="6.4"/><circle cx="1788.7" cy="468.4" r="6.4"/><circle cx="1790.2" cy="437.4" r="6.4"/><circle cx="1792.1" cy="440.3" r="6.4"/><circle cx="1795.9" cy="432" r="6.4"/><circle cx="1797.7" cy="329.3" r="6.4"/><circle cx="1799.6" cy="382.3" r="6.4"/><circle cx="1801.7" cy="348.9" r="6.4"/><circle cx="1803.6" cy="374.5" r="6.4"/><circle cx="1805.3" cy="364" r="6.4"/><circle cx="1807.4" cy="419.6" r="6.4"/><circle cx="1809.1" cy="410" r="6.4"/><circle cx="1810.7" cy="457.5" r="6.4"/><circle cx="1812.6" cy="306.2" r="6.4"/><circle cx="1814.5" cy="343.1" r="6.4"/><circle cx="1816.2" cy="290.7" r="6.4"/><circle cx="1818.1" cy="322.4" r="6.4"/><circle cx="1819.8" cy="351.7" r="6.4"/><circle cx="1822.1" cy="434.1" r="6.4"/><circle cx="1823.7" cy="363.6" r="6.4"/><circle cx="1825.6" cy="371.8" r="6.4"/><circle cx="1827.5" cy="256.8" r="6.4"/><circle cx="1829.4" cy="346.4" r="6.4"/><circle cx="1831.1" cy="243.8" r="6.4"/><circle cx="1833" cy="318.4" r="6.4"/><circle cx="1835" cy="266.2" r="6.4"/><circle cx="1836.7" cy="355" r="6.4"/><circle cx="1838.6" cy="369.3" r="6.4"/><circle cx="1840.5" cy="403.7" r="6.4"/><circle cx="1842.4" cy="349" r="6.4"/><circle cx="1844.1" cy="335.3" r="6.4"/><circle cx="1846.1" cy="390.9" r="6.4"/><circle cx="1848.2" cy="240.8" r="6.4"/><circle cx="1849.9" cy="310.4" r="6.4"/><circle cx="1851.4" cy="378.5" r="6.4"/></g>
<path class="tk" d="M258 195v-19M258 832.8v19M302.42 195v-10M302.42 832.8v10M346.84 195v-10M346.84 832.8v10M391.26 195v-19M391.26 832.8v19M435.68 195v-10M435.68 832.8v10M480.1 195v-10M480.1 832.8v10M524.52 195v-19M524.52 832.8v19M568.94 195v-10M568.94 832.8v10M613.36 195v-10M613.36 832.8v10M657.78 195v-19M657.78 832.8v19M702.2 195v-10M702.2 832.8v10M746.62 195v-10M746.62 832.8v10M791.04 195v-19M791.04 832.8v19M835.46 195v-10M835.46 832.8v10M879.88 195v-10M879.88 832.8v10M924.3 195v-19M924.3 832.8v19M968.72 195v-10M968.72 832.8v10M1013.14 195v-10M1013.14 832.8v10M1057.56 195v-19M1057.56 832.8v19M1101.98 195v-10M1101.98 832.8v10M1146.4 195v-10M1146.4 832.8v10M1190.82 195v-19M1190.82 832.8v19M1235.24 195v-10M1235.24 832.8v10M1279.66 195v-10M1279.66 832.8v10M1324.08 195v-19M1324.08 832.8v19M1368.5 195v-10M1368.5 832.8v10M1412.92 195v-10M1412.92 832.8v10M1457.34 195v-19M1457.34 832.8v19M1501.76 195v-10M1501.76 832.8v10M1546.18 195v-10M1546.18 832.8v10M1590.6 195v-19M1590.6 832.8v19M1635.02 195v-10M1635.02 832.8v10M1679.44 195v-10M1679.44 832.8v10M1723.86 195v-19M1723.86 832.8v19M1768.28 195v-10M1768.28 832.8v10M1812.7 195v-10M1812.7 832.8v10M1857.12 195v-19M1857.12 832.8v19"/>
<path class="tk" style="stroke-width:2.5" d="M226 266.71h-19M1883.6 266.71h19M226 371.85h-19M1883.6 371.85h19M226 476.99h-19M1883.6 476.99h19M226 582.13h-19M1883.6 582.13h19M226 687.27h-19M1883.6 687.27h19M226 792.41h-19M1883.6 792.41h19"/>
<rect class="fr" x="226" y="195" width="1657.6" height="637.8"/>
<text class="l b m" transform="translate(257.7 899.7) scale(1 1.05)">0</text><text class="l b m" transform="translate(390.96 899.7) scale(1 1.05)">6</text><text class="l b m" transform="translate(524.22 899.7) scale(1 1.05)">12</text><text class="l b m" transform="translate(657.48 899.7) scale(1 1.05)">18</text><text class="l b m" transform="translate(790.74 899.7) scale(1 1.05)">24</text><text class="l b m" transform="translate(924 899.7) scale(1 1.05)">30</text><text class="l b m" transform="translate(1057.26 899.7) scale(1 1.05)">36</text><text class="l b m" transform="translate(1190.52 899.7) scale(1 1.05)">42</text><text class="l b m" transform="translate(1323.78 899.7) scale(1 1.05)">48</text><text class="l b m" transform="translate(1457.04 899.7) scale(1 1.05)">54</text><text class="l b m" transform="translate(1590.3 899.7) scale(1 1.05)">60</text><text class="l b m" transform="translate(1723.56 899.7) scale(1 1.05)">66</text><text class="l b m" transform="translate(1856.82 899.7) scale(1 1.05)">72</text>
<text class="l b e" transform="translate(190.9 282.21) scale(1 1.05)">10</text><text class="l b e" transform="translate(190.9 387.35) scale(1 1.05)">0</text><text class="l b e" transform="translate(190.9 492.49) scale(1 1.05)"><tspan dy="4.6">−</tspan><tspan dy="-4.6">10</tspan></text><text class="l b e" transform="translate(190.9 597.63) scale(1 1.05)"><tspan dy="4.6">−</tspan><tspan dy="-4.6">20</tspan></text><text class="l b e" transform="translate(190.9 702.77) scale(1 1.05)"><tspan dy="4.6">−</tspan><tspan dy="-4.6">30</tspan></text><text class="l b e" transform="translate(190.9 807.91) scale(1 1.05)"><tspan dy="4.6">−</tspan><tspan dy="-4.6">40</tspan></text>
<text class="l m" transform="translate(90.1 513.9) rotate(-90) scale(1 1.035)">East (mm)</text>
</g>
<g id="panel2">
<g class="d"><circle cx="257.8" cy="1499.5" r="6.4"/><circle cx="261.4" cy="1461" r="6.4"/><circle cx="263.3" cy="1418.6" r="6.4"/><circle cx="264.5" cy="1406.5" r="6.4"/><circle cx="267.2" cy="1374.6" r="6.4"/><circle cx="268.9" cy="1396" r="6.4"/><circle cx="270.6" cy="1404.6" r="6.4"/><circle cx="272.5" cy="1415.3" r="6.4"/><circle cx="274.4" cy="1366" r="6.4"/><circle cx="276.4" cy="1434.1" r="6.4"/><circle cx="278.5" cy="1386.5" r="6.4"/><circle cx="280.2" cy="1428.1" r="6.4"/><circle cx="282.1" cy="1369.2" r="6.4"/><circle cx="284.6" cy="1286.2" r="6.4"/><circle cx="287.4" cy="1270.1" r="6.4"/><circle cx="289.4" cy="1275.5" r="6.4"/><circle cx="291.1" cy="1357" r="6.4"/><circle cx="293.2" cy="1436.9" r="6.4"/><circle cx="294.5" cy="1391.8" r="6.4"/><circle cx="296.6" cy="1377.8" r="6.4"/><circle cx="298.4" cy="1419.1" r="6.4"/><circle cx="300.3" cy="1400.8" r="6.4"/><circle cx="302.4" cy="1353.9" r="6.4"/><circle cx="305.1" cy="1393.2" r="6.4"/><circle cx="307.9" cy="1381.7" r="6.4"/><circle cx="309.8" cy="1386.5" r="6.4"/><circle cx="311.6" cy="1477.5" r="6.4"/><circle cx="313.1" cy="1494.3" r="6.4"/><circle cx="315.4" cy="1418.4" r="6.4"/><circle cx="317.1" cy="1465.8" r="6.4"/><circle cx="318.8" cy="1324.7" r="6.4"/><circle cx="320.9" cy="1490.3" r="6.4"/><circle cx="322.7" cy="1524" r="6.4"/><circle cx="324.6" cy="1499.5" r="6.4"/><circle cx="326.3" cy="1389.9" r="6.4"/><circle cx="328.2" cy="1344.4" r="6.4"/><circle cx="329.9" cy="1509.1" r="6.4"/><circle cx="331.8" cy="1478.1" r="6.4"/><circle cx="333.8" cy="1483.2" r="6.4"/><circle cx="334.7" cy="1443.6" r="6.4"/><circle cx="337.6" cy="1441.1" r="6.4"/><circle cx="339.5" cy="1514.2" r="6.4"/><circle cx="341.2" cy="1567.4" r="6.4"/><circle cx="342.9" cy="1394.1" r="6.4"/><circle cx="345.2" cy="1423.9" r="6.4"/><circle cx="346.8" cy="1391.8" r="6.4"/><circle cx="350" cy="1424.3" r="6.4"/><circle cx="350.6" cy="1470.2" r="6.4"/><circle cx="351.9" cy="1545.8" r="6.4"/><circle cx="354.2" cy="1550.8" r="6.4"/><circle cx="356.1" cy="1533.9" r="6.4"/><circle cx="357.7" cy="1445" r="6.4"/><circle cx="359.6" cy="1424.9" r="6.4"/><circle cx="361.5" cy="1359.7" r="6.4"/><circle cx="363.4" cy="1420.7" r="6.4"/><circle cx="365.3" cy="1449.4" r="6.4"/><circle cx="367.2" cy="1472.1" r="6.4"/><circle cx="369.1" cy="1523" r="6.4"/><circle cx="371.1" cy="1505.2" r="6.4"/><circle cx="372.4" cy="1511.4" r="6.4"/><circle cx="374.9" cy="1448.8" r="6.4"/><circle cx="376.2" cy="1495.7" r="6.4"/><circle cx="377.9" cy="1488.4" r="6.4"/><circle cx="380.2" cy="1440.4" r="6.4"/><circle cx="382" cy="1429.3" r="6.4"/><circle cx="383.5" cy="1510" r="6.4"/><circle cx="385.4" cy="1503.3" r="6.4"/><circle cx="387.3" cy="1518.6" r="6.4"/><circle cx="389.2" cy="1472.5" r="6.4"/><circle cx="391.1" cy="1460.8" r="6.4"/><circle cx="393.1" cy="1537.4" r="6.4"/><circle cx="395" cy="1549.8" r="6.4"/><circle cx="396.9" cy="1504.5" r="6.4"/><circle cx="398.6" cy="1572.4" r="6.4"/><circle cx="400.3" cy="1485.7" r="6.4"/><circle cx="402.2" cy="1258.5" r="6.4"/><circle cx="404.2" cy="1343.4" r="6.4"/><circle cx="405.7" cy="1493.8" r="6.4"/><circle cx="408" cy="1488.6" r="6.4"/><circle cx="409.3" cy="1466" r="6.4"/><circle cx="410.3" cy="1420.7" r="6.4"/><circle cx="413.3" cy="1418.2" r="6.4"/><circle cx="415.1" cy="1449.2" r="6.4"/><circle cx="417.9" cy="1423" r="6.4"/><circle cx="418.9" cy="1469.8" r="6.4"/><circle cx="420.8" cy="1464.5" r="6.4"/><circle cx="423.7" cy="1422.6" r="6.4"/><circle cx="424.4" cy="1369.2" r="6.4"/><circle cx="426.9" cy="1465.6" r="6.4"/><circle cx="427.5" cy="1402.7" r="6.4"/><circle cx="429.4" cy="1400.8" r="6.4"/><circle cx="431.9" cy="1386.5" r="6.4"/><circle cx="433.6" cy="1360.1" r="6.4"/><circle cx="435.2" cy="1421.4" r="6.4"/><circle cx="437.1" cy="1356.2" r="6.4"/><circle cx="439.4" cy="1375" r="6.4"/><circle cx="440.9" cy="1352.4" r="6.4"/><circle cx="442.8" cy="1398.3" r="6.4"/><circle cx="445.1" cy="1383" r="6.4"/><circle cx="446.6" cy="1320.8" r="6.4"/><circle cx="448.2" cy="1339.6" r="6.4"/><circle cx="450.5" cy="1429.7" r="6.4"/><circle cx="452.4" cy="1425.8" r="6.4"/><circle cx="454.3" cy="1412.8" r="6.4"/><circle cx="456.2" cy="1342.8" r="6.4"/><circle cx="458.1" cy="1415.3" r="6.4"/><circle cx="459.5" cy="1359.3" r="6.4"/><circle cx="461.4" cy="1478.1" r="6.4"/><circle cx="463.3" cy="1434.4" r="6.4"/><circle cx="465.2" cy="1501.2" r="6.4"/><circle cx="466.9" cy="1407.5" r="6.4"/><circle cx="469" cy="1263.8" r="6.4"/><circle cx="470.7" cy="1277" r="6.4"/><circle cx="496.4" cy="1290.4" r="6.4"/><circle cx="498.5" cy="1236.5" r="6.4"/><circle cx="500.2" cy="1296.5" r="6.4"/><circle cx="502.3" cy="1346.1" r="6.4"/><circle cx="504" cy="1273.6" r="6.4"/><circle cx="505.8" cy="1392.2" r="6.4"/><circle cx="506.9" cy="1286" r="6.4"/><circle cx="510.2" cy="1280.3" r="6.4"/><circle cx="511.3" cy="1249.8" r="6.4"/><circle cx="513.2" cy="1298.1" r="6.4"/><circle cx="515.5" cy="1282.8" r="6.4"/><circle cx="516.5" cy="1368.3" r="6.4"/><circle cx="518.4" cy="1384.5" r="6.4"/><circle cx="521.2" cy="1375" r="6.4"/><circle cx="522.6" cy="1359.7" r="6.4"/><circle cx="524.3" cy="1347.6" r="6.4"/><circle cx="527" cy="1367.3" r="6.4"/><circle cx="528.5" cy="1385.5" r="6.4"/><circle cx="529.9" cy="1404.8" r="6.4"/><circle cx="531.7" cy="1333.6" r="6.4"/><circle cx="533.4" cy="1375" r="6.4"/><circle cx="535.3" cy="1356.2" r="6.4"/><circle cx="536.8" cy="1278.9" r="6.4"/><circle cx="539.1" cy="1350.1" r="6.4"/><circle cx="541" cy="1276.1" r="6.4"/><circle cx="542.8" cy="1399.5" r="6.4"/><circle cx="544.5" cy="1506.2" r="6.4"/><circle cx="546.4" cy="1374" r="6.4"/><circle cx="548.3" cy="1301.7" r="6.4"/><circle cx="550.6" cy="1304.2" r="6.4"/><circle cx="551.6" cy="1367.3" r="6.4"/><circle cx="554.4" cy="1378.8" r="6.4"/><circle cx="555.8" cy="1335.9" r="6.4"/><circle cx="557.7" cy="1362.5" r="6.4"/><circle cx="559.6" cy="1499.3" r="6.4"/><circle cx="561.3" cy="1621.6" r="6.4"/><circle cx="563.6" cy="1622.4" r="6.4"/><circle cx="566.3" cy="1462.6" r="6.4"/><circle cx="568.6" cy="1425.3" r="6.4"/><circle cx="570.5" cy="1451.3" r="6.4"/><circle cx="572.6" cy="1589.2" r="6.4"/><circle cx="574.5" cy="1542.3" r="6.4"/><circle cx="576.2" cy="1348" r="6.4"/><circle cx="578.2" cy="1327.3" r="6.4"/><circle cx="580.1" cy="1395.8" r="6.4"/><circle cx="581.4" cy="1307.6" r="6.4"/><circle cx="583.3" cy="1300" r="6.4"/><circle cx="585.4" cy="1418.8" r="6.4"/><circle cx="587.3" cy="1578.3" r="6.4"/><circle cx="589.1" cy="1283.7" r="6.4"/><circle cx="591" cy="1477.1" r="6.4"/><circle cx="592.7" cy="1453" r="6.4"/><circle cx="594.6" cy="1338" r="6.4"/><circle cx="596.5" cy="1298.3" r="6.4"/><circle cx="598.4" cy="1416.6" r="6.4"/><circle cx="600.4" cy="1587.5" r="6.4"/><circle cx="602.3" cy="1457.4" r="6.4"/><circle cx="604" cy="1403.9" r="6.4"/><circle cx="605.9" cy="1159.7" r="6.4"/><circle cx="607.6" cy="1276.6" r="6.4"/><circle cx="626.2" cy="1474.2" r="6.4"/><circle cx="628.1" cy="1533.4" r="6.4"/><circle cx="630" cy="1484.8" r="6.4"/><circle cx="631.9" cy="1481.3" r="6.4"/><circle cx="633.6" cy="1500.6" r="6.4"/><circle cx="635.4" cy="1419.1" r="6.4"/><circle cx="637.3" cy="1425.8" r="6.4"/><circle cx="639.6" cy="1388.9" r="6.4"/><circle cx="641.5" cy="1390.9" r="6.4"/><circle cx="642.8" cy="1344.4" r="6.4"/><circle cx="644.7" cy="1492.6" r="6.4"/><circle cx="646.3" cy="1421.6" r="6.4"/><circle cx="648.2" cy="1444.4" r="6.4"/><circle cx="650.3" cy="1378.2" r="6.4"/><circle cx="652" cy="1521.9" r="6.4"/><circle cx="653.7" cy="1408.5" r="6.4"/><circle cx="655.8" cy="1417.2" r="6.4"/><circle cx="657.8" cy="1494.3" r="6.4"/><circle cx="659.5" cy="1560.1" r="6.4"/><circle cx="661.4" cy="1544.8" r="6.4"/><circle cx="663.1" cy="1399.3" r="6.4"/><circle cx="664.8" cy="1381.1" r="6.4"/><circle cx="666.9" cy="1425.4" r="6.4"/><circle cx="668.7" cy="1375.9" r="6.4"/><circle cx="670.8" cy="1391.8" r="6.4"/><circle cx="672.5" cy="1420.1" r="6.4"/><circle cx="674.2" cy="1361.6" r="6.4"/><circle cx="676.3" cy="1407.1" r="6.4"/><circle cx="677.8" cy="1356.2" r="6.4"/><circle cx="679.8" cy="1380.7" r="6.4"/><circle cx="681.7" cy="1441.1" r="6.4"/><circle cx="685.5" cy="1370.8" r="6.4"/><circle cx="687" cy="1434.1" r="6.4"/><circle cx="688.9" cy="1464.7" r="6.4"/><circle cx="691.2" cy="1383.6" r="6.4"/><circle cx="692.8" cy="1460.8" r="6.4"/><circle cx="694.5" cy="1353.9" r="6.4"/><circle cx="697" cy="1384.2" r="6.4"/><circle cx="698.3" cy="1348.8" r="6.4"/><circle cx="700.4" cy="1306.7" r="6.4"/><circle cx="702.1" cy="1404.2" r="6.4"/><circle cx="703.7" cy="1444" r="6.4"/><circle cx="705.8" cy="1334" r="6.4"/><circle cx="707.9" cy="1386.5" r="6.4"/><circle cx="709.4" cy="1426.6" r="6.4"/><circle cx="711.3" cy="1439.2" r="6.4"/><circle cx="713.2" cy="1472.7" r="6.4"/><circle cx="716.7" cy="1538.7" r="6.4"/><circle cx="717.1" cy="1476.5" r="6.4"/><circle cx="718.8" cy="1393.5" r="6.4"/><circle cx="720.5" cy="1481.9" r="6.4"/><circle cx="724.3" cy="1537.2" r="6.4"/><circle cx="726.2" cy="1427.4" r="6.4"/><circle cx="728" cy="1471" r="6.4"/><circle cx="729.9" cy="1415.3" r="6.4"/><circle cx="731.6" cy="1568.2" r="6.4"/><circle cx="733.3" cy="1455.9" r="6.4"/><circle cx="735.4" cy="1386.5" r="6.4"/><circle cx="737.2" cy="1308.8" r="6.4"/><circle cx="739.1" cy="1461.2" r="6.4"/><circle cx="741" cy="1457" r="6.4"/><circle cx="742.7" cy="1565.3" r="6.4"/><circle cx="744.6" cy="1466.8" r="6.4"/><circle cx="746.5" cy="1436.4" r="6.4"/><circle cx="748.3" cy="1335.2" r="6.4"/><circle cx="749.6" cy="1394.1" r="6.4"/><circle cx="752.1" cy="1372.1" r="6.4"/><circle cx="753.4" cy="1350.7" r="6.4"/><circle cx="756.3" cy="1353.9" r="6.4"/><circle cx="757.6" cy="1455.5" r="6.4"/><circle cx="759.5" cy="1394.1" r="6.4"/><circle cx="761.1" cy="1418.2" r="6.4"/><circle cx="763.2" cy="1508.5" r="6.4"/><circle cx="765.1" cy="1405.8" r="6.4"/><circle cx="766.8" cy="1423" r="6.4"/><circle cx="768.5" cy="1374.2" r="6.4"/><circle cx="770.6" cy="1446.1" r="6.4"/><circle cx="772.6" cy="1482.1" r="6.4"/><circle cx="774.1" cy="1521.7" r="6.4"/><circle cx="776.2" cy="1506" r="6.4"/><circle cx="778.1" cy="1438.8" r="6.4"/><circle cx="779.6" cy="1531.2" r="6.4"/><circle cx="781.5" cy="1353.4" r="6.4"/><circle cx="783.6" cy="1421.2" r="6.4"/><circle cx="785.4" cy="1406.5" r="6.4"/><circle cx="786.9" cy="1393.7" r="6.4"/><circle cx="789.2" cy="1495.1" r="6.4"/><circle cx="790.9" cy="1459.9" r="6.4"/><circle cx="792.6" cy="1450.9" r="6.4"/><circle cx="794.6" cy="1389.9" r="6.4"/><circle cx="796.5" cy="1364.1" r="6.4"/><circle cx="798.4" cy="1435.4" r="6.4"/><circle cx="800.1" cy="1345.5" r="6.4"/><circle cx="802.1" cy="1366.2" r="6.4"/><circle cx="804.1" cy="1378.4" r="6.4"/><circle cx="807.6" cy="1424.3" r="6.4"/><circle cx="809.5" cy="1489" r="6.4"/><circle cx="811.4" cy="1367.6" r="6.4"/><circle cx="814.9" cy="1406.2" r="6.4"/><circle cx="817" cy="1300.2" r="6.4"/><circle cx="818.6" cy="1353.5" r="6.4"/><circle cx="820.7" cy="1255.4" r="6.4"/><circle cx="822.6" cy="1369" r="6.4"/><circle cx="824.5" cy="1406.9" r="6.4"/><circle cx="825.8" cy="1413.4" r="6.4"/><circle cx="827.7" cy="1448.8" r="6.4"/><circle cx="830" cy="1438.3" r="6.4"/><circle cx="831.8" cy="1409.2" r="6.4"/><circle cx="833.5" cy="1371.1" r="6.4"/><circle cx="835.4" cy="1401.8" r="6.4"/><circle cx="837.3" cy="1449.4" r="6.4"/><circle cx="839.2" cy="1417.2" r="6.4"/><circle cx="841.1" cy="1370.2" r="6.4"/><circle cx="843" cy="1406.9" r="6.4"/><circle cx="844.6" cy="1383" r="6.4"/><circle cx="846.3" cy="1353" r="6.4"/><circle cx="847.8" cy="1459.9" r="6.4"/><circle cx="850.1" cy="1344.4" r="6.4"/><circle cx="852" cy="1428.3" r="6.4"/><circle cx="854" cy="1465.1" r="6.4"/><circle cx="855.7" cy="1493.9" r="6.4"/><circle cx="857.4" cy="1459.9" r="6.4"/><circle cx="859.5" cy="1336.7" r="6.4"/><circle cx="861.2" cy="1355.3" r="6.4"/><circle cx="863.1" cy="1432" r="6.4"/><circle cx="865.1" cy="1386.3" r="6.4"/><circle cx="867" cy="1457.8" r="6.4"/><circle cx="868.9" cy="1472.9" r="6.4"/><circle cx="870.6" cy="1505.2" r="6.4"/><circle cx="872.3" cy="1543.1" r="6.4"/><circle cx="874.4" cy="1408.5" r="6.4"/><circle cx="876.1" cy="1511.5" r="6.4"/><circle cx="877.9" cy="1350.5" r="6.4"/><circle cx="879.8" cy="1463.1" r="6.4"/><circle cx="881.7" cy="1446.7" r="6.4"/><circle cx="883.2" cy="1500.4" r="6.4"/><circle cx="885.3" cy="1517.5" r="6.4"/><circle cx="888" cy="1501" r="6.4"/><circle cx="888.8" cy="1537.9" r="6.4"/><circle cx="890.9" cy="1455.5" r="6.4"/><circle cx="892.8" cy="1414.3" r="6.4"/><circle cx="894.7" cy="1469.1" r="6.4"/><circle cx="896.6" cy="1479.4" r="6.4"/><circle cx="898.2" cy="1516.9" r="6.4"/><circle cx="900.3" cy="1541.4" r="6.4"/><circle cx="902.4" cy="1484.2" r="6.4"/><circle cx="903.9" cy="1495.5" r="6.4"/><circle cx="905.8" cy="1418.6" r="6.4"/><circle cx="907.1" cy="1450.1" r="6.4"/><circle cx="909.6" cy="1478.8" r="6.4"/><circle cx="911" cy="1516.3" r="6.4"/><circle cx="913.8" cy="1448.4" r="6.4"/><circle cx="915" cy="1521.5" r="6.4"/><circle cx="916.3" cy="1506.6" r="6.4"/><circle cx="918.6" cy="1427.7" r="6.4"/><circle cx="920.5" cy="1423.9" r="6.4"/><circle cx="922.4" cy="1445" r="6.4"/><circle cx="924.4" cy="1504.3" r="6.4"/><circle cx="926.3" cy="1455.1" r="6.4"/><circle cx="927.8" cy="1543.1" r="6.4"/><circle cx="929.9" cy="1496" r="6.4"/><circle cx="931.6" cy="1465.1" r="6.4"/><circle cx="933.5" cy="1317.4" r="6.4"/><circle cx="935.5" cy="1410" r="6.4"/><circle cx="937.8" cy="1413.8" r="6.4"/><circle cx="938.7" cy="1428.1" r="6.4"/><circle cx="942.5" cy="1430.6" r="6.4"/><circle cx="943.5" cy="1402.7" r="6.4"/><circle cx="946.4" cy="1398.3" r="6.4"/><circle cx="950.2" cy="1461.2" r="6.4"/><circle cx="952.1" cy="1453.6" r="6.4"/><circle cx="953.1" cy="1413.4" r="6.4"/><circle cx="955.9" cy="1407.5" r="6.4"/><circle cx="957.3" cy="1423.9" r="6.4"/><circle cx="958.8" cy="1392.8" r="6.4"/><circle cx="961.1" cy="1385.5" r="6.4"/><circle cx="963" cy="1420.1" r="6.4"/><circle cx="964.9" cy="1390.3" r="6.4"/><circle cx="966.6" cy="1362.3" r="6.4"/><circle cx="968.6" cy="1441.3" r="6.4"/><circle cx="970.5" cy="1406" r="6.4"/><circle cx="972.4" cy="1340.3" r="6.4"/><circle cx="974.1" cy="1553.6" r="6.4"/><circle cx="976" cy="1386.6" r="6.4"/><circle cx="977.9" cy="1438.3" r="6.4"/><circle cx="979.8" cy="1349" r="6.4"/><circle cx="981.6" cy="1500.1" r="6.4"/><circle cx="983.5" cy="1480.2" r="6.4"/><circle cx="985.2" cy="1443.6" r="6.4"/><circle cx="987.1" cy="1422.8" r="6.4"/><circle cx="989.4" cy="1356.2" r="6.4"/><circle cx="990.8" cy="1363.9" r="6.4"/><circle cx="992.7" cy="1492.4" r="6.4"/><circle cx="994.6" cy="1565.5" r="6.4"/><circle cx="996.5" cy="1471.6" r="6.4"/><circle cx="998.2" cy="1333.8" r="6.4"/><circle cx="1000.1" cy="1382.2" r="6.4"/><circle cx="1002.2" cy="1296.5" r="6.4"/><circle cx="1003.8" cy="1318.7" r="6.4"/><circle cx="1005.7" cy="1349.5" r="6.4"/><circle cx="1007.6" cy="1461.6" r="6.4"/><circle cx="1008.5" cy="1340.5" r="6.4"/><circle cx="1011.2" cy="1231.5" r="6.4"/><circle cx="1012.8" cy="1387" r="6.4"/><circle cx="1015.2" cy="1337.1" r="6.4"/><circle cx="1018.9" cy="1390.5" r="6.4"/><circle cx="1020.6" cy="1349.5" r="6.4"/><circle cx="1022.3" cy="1430.6" r="6.4"/><circle cx="1024.6" cy="1340.5" r="6.4"/><circle cx="1026.1" cy="1273.4" r="6.4"/><circle cx="1028.1" cy="1251.2" r="6.4"/><circle cx="1046.2" cy="1426" r="6.4"/><circle cx="1048.3" cy="1531.8" r="6.4"/><circle cx="1050.1" cy="1480.5" r="6.4"/><circle cx="1051.6" cy="1442.1" r="6.4"/><circle cx="1055.4" cy="1435" r="6.4"/><circle cx="1057.5" cy="1416.6" r="6.4"/><circle cx="1059.2" cy="1451.3" r="6.4"/><circle cx="1061.2" cy="1440.2" r="6.4"/><circle cx="1063.3" cy="1468.3" r="6.4"/><circle cx="1065" cy="1478.4" r="6.4"/><circle cx="1066.7" cy="1393.7" r="6.4"/><circle cx="1068.4" cy="1279.7" r="6.4"/><circle cx="1070.3" cy="1323.9" r="6.4"/><circle cx="1072.3" cy="1313.6" r="6.4"/><circle cx="1074" cy="1371" r="6.4"/><circle cx="1075.9" cy="1519.2" r="6.4"/><circle cx="1077.8" cy="1429.3" r="6.4"/><circle cx="1079.7" cy="1410.2" r="6.4"/><circle cx="1081.4" cy="1253.9" r="6.4"/><circle cx="1083.5" cy="1371.1" r="6.4"/><circle cx="1085.3" cy="1327.7" r="6.4"/><circle cx="1087" cy="1433.5" r="6.4"/><circle cx="1088.9" cy="1349.1" r="6.4"/><circle cx="1090.8" cy="1455.1" r="6.4"/><circle cx="1092.6" cy="1567.2" r="6.4"/><circle cx="1094.3" cy="1521.3" r="6.4"/><circle cx="1096.3" cy="1489.3" r="6.4"/><circle cx="1098.2" cy="1441.1" r="6.4"/><circle cx="1100.1" cy="1445.9" r="6.4"/><circle cx="1101.8" cy="1394.5" r="6.4"/><circle cx="1103.9" cy="1446.9" r="6.4"/><circle cx="1105.6" cy="1475.2" r="6.4"/><circle cx="1107.4" cy="1405.2" r="6.4"/><circle cx="1109.3" cy="1416.3" r="6.4"/><circle cx="1111" cy="1375.9" r="6.4"/><circle cx="1112.9" cy="1326.6" r="6.4"/><circle cx="1114.8" cy="1285.1" r="6.4"/><circle cx="1116.4" cy="1385.5" r="6.4"/><circle cx="1118.6" cy="1392.2" r="6.4"/><circle cx="1120.6" cy="1374.6" r="6.4"/><circle cx="1122.3" cy="1405.6" r="6.4"/><circle cx="1124" cy="1480.7" r="6.4"/><circle cx="1125.9" cy="1318.7" r="6.4"/><circle cx="1127.8" cy="1299.8" r="6.4"/><circle cx="1129.7" cy="1552.1" r="6.4"/><circle cx="1131.5" cy="1542.9" r="6.4"/><circle cx="1133.6" cy="1406.5" r="6.4"/><circle cx="1135.5" cy="1479.4" r="6.4"/><circle cx="1137" cy="1362.3" r="6.4"/><circle cx="1138.9" cy="1419.5" r="6.4"/><circle cx="1140.7" cy="1461.2" r="6.4"/><circle cx="1142.8" cy="1486.7" r="6.4"/><circle cx="1144.7" cy="1480" r="6.4"/><circle cx="1146" cy="1446.9" r="6.4"/><circle cx="1148.3" cy="1361.4" r="6.4"/><circle cx="1150.8" cy="1448.8" r="6.4"/><circle cx="1151.9" cy="1461.8" r="6.4"/><circle cx="1153.7" cy="1407.1" r="6.4"/><circle cx="1157.3" cy="1434.6" r="6.4"/><circle cx="1159.2" cy="1551.3" r="6.4"/><circle cx="1161.3" cy="1532.4" r="6.4"/><circle cx="1162.8" cy="1513.3" r="6.4"/><circle cx="1166.1" cy="1508.7" r="6.4"/><circle cx="1168.4" cy="1454.3" r="6.4"/><circle cx="1170.3" cy="1400.4" r="6.4"/><circle cx="1172.4" cy="1424.1" r="6.4"/><circle cx="1173.9" cy="1371.9" r="6.4"/><circle cx="1175.9" cy="1490.5" r="6.4"/><circle cx="1177.8" cy="1458.5" r="6.4"/><circle cx="1179.5" cy="1426.2" r="6.4"/><circle cx="1181.4" cy="1481.1" r="6.4"/><circle cx="1185.2" cy="1501" r="6.4"/><circle cx="1187.1" cy="1533" r="6.4"/><circle cx="1189.1" cy="1363.1" r="6.4"/><circle cx="1190.8" cy="1518" r="6.4"/><circle cx="1192.7" cy="1543.3" r="6.4"/><circle cx="1194.6" cy="1345.9" r="6.4"/><circle cx="1196.3" cy="1404.6" r="6.4"/><circle cx="1198.2" cy="1483" r="6.4"/><circle cx="1200" cy="1390.7" r="6.4"/><circle cx="1202.1" cy="1573.2" r="6.4"/><circle cx="1203.4" cy="1439.2" r="6.4"/><circle cx="1205.3" cy="1432.1" r="6.4"/><circle cx="1207.4" cy="1460.8" r="6.4"/><circle cx="1209.3" cy="1379.4" r="6.4"/><circle cx="1211.6" cy="1440.6" r="6.4"/><circle cx="1213" cy="1423" r="6.4"/><circle cx="1214.9" cy="1418.2" r="6.4"/><circle cx="1216.2" cy="1365.8" r="6.4"/><circle cx="1218.3" cy="1456.1" r="6.4"/><circle cx="1221.6" cy="1421.4" r="6.4"/><circle cx="1222.5" cy="1364.5" r="6.4"/><circle cx="1224.5" cy="1457.8" r="6.4"/><circle cx="1226" cy="1354.7" r="6.4"/><circle cx="1227.5" cy="1298.3" r="6.4"/><circle cx="1229.4" cy="1414.9" r="6.4"/><circle cx="1231.1" cy="1367.7" r="6.4"/><circle cx="1233.6" cy="1449" r="6.4"/><circle cx="1235.2" cy="1456.8" r="6.4"/><circle cx="1237.5" cy="1362.9" r="6.4"/><circle cx="1239" cy="1329.6" r="6.4"/><circle cx="1240.3" cy="1431" r="6.4"/><circle cx="1242.6" cy="1476.3" r="6.4"/><circle cx="1244.2" cy="1509.1" r="6.4"/><circle cx="1246.8" cy="1433.7" r="6.4"/><circle cx="1248.2" cy="1489.7" r="6.4"/><circle cx="1250.1" cy="1381.5" r="6.4"/><circle cx="1252" cy="1367.1" r="6.4"/><circle cx="1253.7" cy="1506" r="6.4"/><circle cx="1255.4" cy="1577.9" r="6.4"/><circle cx="1257" cy="1589.4" r="6.4"/><circle cx="1260.8" cy="1596.1" r="6.4"/><circle cx="1263.1" cy="1564.9" r="6.4"/><circle cx="1264.6" cy="1488" r="6.4"/><circle cx="1266.5" cy="1584.2" r="6.4"/><circle cx="1268.5" cy="1497.2" r="6.4"/><circle cx="1270.2" cy="1520" r="6.4"/><circle cx="1273.2" cy="1489" r="6.4"/><circle cx="1274.2" cy="1509.4" r="6.4"/><circle cx="1276.1" cy="1489.5" r="6.4"/><circle cx="1277.8" cy="1330.8" r="6.4"/><circle cx="1279.6" cy="1432" r="6.4"/><circle cx="1281.5" cy="1522.4" r="6.4"/><circle cx="1282.8" cy="1375" r="6.4"/><circle cx="1285.1" cy="1318.7" r="6.4"/><circle cx="1287.6" cy="1376.9" r="6.4"/><circle cx="1333.5" cy="1379.4" r="6.4"/><circle cx="1335.2" cy="1436.2" r="6.4"/><circle cx="1336.8" cy="1418.2" r="6.4"/><circle cx="1338.3" cy="1395.6" r="6.4"/><circle cx="1340.6" cy="1455.1" r="6.4"/><circle cx="1343.1" cy="1393.7" r="6.4"/><circle cx="1344.2" cy="1405.2" r="6.4"/><circle cx="1345.6" cy="1329.4" r="6.4"/><circle cx="1347.9" cy="1325.6" r="6.4"/><circle cx="1350" cy="1298.8" r="6.4"/><circle cx="1351.9" cy="1258.5" r="6.4"/><circle cx="1353.8" cy="1337.7" r="6.4"/><circle cx="1355.5" cy="1408.1" r="6.4"/><circle cx="1356.5" cy="1373.1" r="6.4"/><circle cx="1359.3" cy="1418.8" r="6.4"/><circle cx="1361.2" cy="1371.1" r="6.4"/><circle cx="1363.2" cy="1410.9" r="6.4"/><circle cx="1364.7" cy="1353.4" r="6.4"/><circle cx="1366.6" cy="1432.1" r="6.4"/><circle cx="1368.5" cy="1367.9" r="6.4"/><circle cx="1370.4" cy="1336.1" r="6.4"/><circle cx="1374" cy="1385.7" r="6.4"/><circle cx="1375.7" cy="1344.7" r="6.4"/><circle cx="1377.6" cy="1378" r="6.4"/><circle cx="1379.5" cy="1415.7" r="6.4"/><circle cx="1381.4" cy="1299.8" r="6.4"/><circle cx="1383.3" cy="1332.5" r="6.4"/><circle cx="1385.3" cy="1486.5" r="6.4"/><circle cx="1387.4" cy="1418.8" r="6.4"/><circle cx="1388.7" cy="1448" r="6.4"/><circle cx="1390.6" cy="1340.5" r="6.4"/><circle cx="1392.5" cy="1410" r="6.4"/><circle cx="1394.4" cy="1429.3" r="6.4"/><circle cx="1396.2" cy="1374" r="6.4"/><circle cx="1397.3" cy="1480" r="6.4"/><circle cx="1400.6" cy="1431.6" r="6.4"/><circle cx="1401.7" cy="1444.4" r="6.4"/><circle cx="1403.6" cy="1485.5" r="6.4"/><circle cx="1405.5" cy="1461.4" r="6.4"/><circle cx="1407.4" cy="1478.1" r="6.4"/><circle cx="1409.2" cy="1354.1" r="6.4"/><circle cx="1411.1" cy="1467.3" r="6.4"/><circle cx="1413" cy="1452.4" r="6.4"/><circle cx="1414.7" cy="1527.2" r="6.4"/><circle cx="1416.4" cy="1568.2" r="6.4"/><circle cx="1418.5" cy="1545.4" r="6.4"/><circle cx="1420.3" cy="1464.1" r="6.4"/><circle cx="1422.2" cy="1422.4" r="6.4"/><circle cx="1424.1" cy="1366.2" r="6.4"/><circle cx="1426" cy="1445.3" r="6.4"/><circle cx="1427.7" cy="1472.9" r="6.4"/><circle cx="1429.5" cy="1515.8" r="6.4"/><circle cx="1430.8" cy="1557.8" r="6.4"/><circle cx="1433.1" cy="1556.5" r="6.4"/><circle cx="1435.2" cy="1523" r="6.4"/><circle cx="1437.1" cy="1483.6" r="6.4"/><circle cx="1438.7" cy="1189.3" r="6.4"/><circle cx="1440.7" cy="1117.6" r="6.4"/><circle cx="1442.6" cy="1225.4" r="6.4"/><circle cx="1444.5" cy="1031.5" r="6.4"/><circle cx="1446.3" cy="1243.4" r="6.4"/><circle cx="1448.3" cy="1100" r="6.4"/><circle cx="1450.2" cy="1023.4" r="6.4"/><circle cx="1464.7" cy="1382.1" r="6.4"/><circle cx="1466.6" cy="1359.1" r="6.4"/><circle cx="1468.5" cy="1480.4" r="6.4"/><circle cx="1470.4" cy="1414.7" r="6.4"/><circle cx="1472.1" cy="1541.6" r="6.4"/><circle cx="1473.5" cy="1458.4" r="6.4"/><circle cx="1474.8" cy="1434.4" r="6.4"/><circle cx="1477.1" cy="1432.5" r="6.4"/><circle cx="1479.6" cy="1476" r="6.4"/><circle cx="1481.5" cy="1450.3" r="6.4"/><circle cx="1483.8" cy="1459.9" r="6.4"/><circle cx="1485.1" cy="1391" r="6.4"/><circle cx="1486.3" cy="1363.3" r="6.4"/><circle cx="1488.8" cy="1424.9" r="6.4"/><circle cx="1490.1" cy="1419.7" r="6.4"/><circle cx="1493" cy="1365.8" r="6.4"/><circle cx="1494.3" cy="1439.4" r="6.4"/><circle cx="1495.8" cy="1349.1" r="6.4"/><circle cx="1498.7" cy="1419.1" r="6.4"/><circle cx="1499.9" cy="1305.1" r="6.4"/><circle cx="1501.6" cy="1424.5" r="6.4"/><circle cx="1503.5" cy="1346.5" r="6.4"/><circle cx="1506.4" cy="1414.9" r="6.4"/><circle cx="1507.1" cy="1396" r="6.4"/><circle cx="1508.9" cy="1410.8" r="6.4"/><circle cx="1511" cy="1320.4" r="6.4"/><circle cx="1512.1" cy="1465.6" r="6.4"/><circle cx="1514.6" cy="1468.9" r="6.4"/><circle cx="1516.5" cy="1441.5" r="6.4"/><circle cx="1518.4" cy="1461.8" r="6.4"/><circle cx="1520.3" cy="1524.4" r="6.4"/><circle cx="1521.7" cy="1428.1" r="6.4"/><circle cx="1524" cy="1434.1" r="6.4"/><circle cx="1525.7" cy="1567.6" r="6.4"/><circle cx="1527.5" cy="1636.6" r="6.4"/><circle cx="1529.5" cy="1309.2" r="6.4"/><circle cx="1531.6" cy="1426.8" r="6.4"/><circle cx="1533.2" cy="1246.4" r="6.4"/><circle cx="1535.1" cy="1354.3" r="6.4"/><circle cx="1537" cy="1584.2" r="6.4"/><circle cx="1538.7" cy="1408.6" r="6.4"/><circle cx="1540.6" cy="1471.6" r="6.4"/><circle cx="1542.3" cy="1286.8" r="6.4"/><circle cx="1544.2" cy="1327.7" r="6.4"/><circle cx="1546.2" cy="1312" r="6.4"/><circle cx="1547.9" cy="1277.8" r="6.4"/><circle cx="1550" cy="1362.9" r="6.4"/><circle cx="1551.9" cy="1352.6" r="6.4"/><circle cx="1553.8" cy="1334" r="6.4"/><circle cx="1555.2" cy="1260.6" r="6.4"/><circle cx="1557.3" cy="1229.2" r="6.4"/><circle cx="1559.2" cy="1283.7" r="6.4"/><circle cx="1560.9" cy="1317.8" r="6.4"/><circle cx="1562.8" cy="1254.1" r="6.4"/><circle cx="1564.3" cy="1238.8" r="6.4"/><circle cx="1566.6" cy="1262.1" r="6.4"/><circle cx="1568.5" cy="1242" r="6.4"/><circle cx="1570.3" cy="1277.2" r="6.4"/><circle cx="1572.4" cy="1229.4" r="6.4"/><circle cx="1573.9" cy="1251.8" r="6.4"/><circle cx="1602.6" cy="1286.2" r="6.4"/><circle cx="1605.4" cy="1201.6" r="6.4"/><circle cx="1606.8" cy="1382.6" r="6.4"/><circle cx="1609.1" cy="1329.2" r="6.4"/><circle cx="1611" cy="1466.8" r="6.4"/><circle cx="1613.5" cy="1383.6" r="6.4"/><circle cx="1614.5" cy="1291.2" r="6.4"/><circle cx="1616.4" cy="1348.2" r="6.4"/><circle cx="1618.1" cy="1375.4" r="6.4"/><circle cx="1620.6" cy="1299.4" r="6.4"/><circle cx="1621.7" cy="1310.5" r="6.4"/><circle cx="1624" cy="1328.7" r="6.4"/><circle cx="1625.6" cy="1491.3" r="6.4"/><circle cx="1627.5" cy="1345.9" r="6.4"/><circle cx="1629.4" cy="1389.7" r="6.4"/><circle cx="1631.1" cy="1308.2" r="6.4"/><circle cx="1633.6" cy="1343" r="6.4"/><circle cx="1635.1" cy="1424.9" r="6.4"/><circle cx="1637" cy="1432.5" r="6.4"/><circle cx="1638.6" cy="1363.9" r="6.4"/><circle cx="1640.7" cy="1388.9" r="6.4"/><circle cx="1642.6" cy="1400.2" r="6.4"/><circle cx="1644.3" cy="1280.3" r="6.4"/><circle cx="1645.7" cy="1231.1" r="6.4"/><circle cx="1647.6" cy="1227.7" r="6.4"/><circle cx="1650.1" cy="1318.7" r="6.4"/><circle cx="1651.5" cy="1373.6" r="6.4"/><circle cx="1653.4" cy="1327.7" r="6.4"/><circle cx="1655.3" cy="1435.4" r="6.4"/><circle cx="1657.3" cy="1218.5" r="6.4"/><circle cx="1659.1" cy="1304.2" r="6.4"/><circle cx="1660.9" cy="1520" r="6.4"/><circle cx="1662.6" cy="1508.1" r="6.4"/><circle cx="1664.5" cy="1362.5" r="6.4"/><circle cx="1666.4" cy="1436.4" r="6.4"/><circle cx="1668.3" cy="1373.1" r="6.4"/><circle cx="1670.2" cy="1367.9" r="6.4"/><circle cx="1672" cy="1339.2" r="6.4"/><circle cx="1674.1" cy="1290.6" r="6.4"/><circle cx="1675.4" cy="1352" r="6.4"/><circle cx="1677.5" cy="1407.1" r="6.4"/><circle cx="1679.4" cy="1329.1" r="6.4"/><circle cx="1681.3" cy="1388.8" r="6.4"/><circle cx="1683.4" cy="1347.8" r="6.4"/><circle cx="1685" cy="1430.6" r="6.4"/><circle cx="1686.9" cy="1367.3" r="6.4"/><circle cx="1688.8" cy="1355.8" r="6.4"/><circle cx="1690.7" cy="1430.2" r="6.4"/><circle cx="1692.4" cy="1337.7" r="6.4"/><circle cx="1694.5" cy="1372.5" r="6.4"/><circle cx="1696.1" cy="1481.5" r="6.4"/><circle cx="1698" cy="1456.2" r="6.4"/><circle cx="1707.2" cy="1426" r="6.4"/><circle cx="1709.1" cy="1505" r="6.4"/><circle cx="1711" cy="1495.3" r="6.4"/><circle cx="1712.7" cy="1523.8" r="6.4"/><circle cx="1714.2" cy="1485.1" r="6.4"/><circle cx="1716.5" cy="1475.6" r="6.4"/><circle cx="1718.3" cy="1406" r="6.4"/><circle cx="1720" cy="1519.6" r="6.4"/><circle cx="1720.4" cy="1479.4" r="6.4"/><circle cx="1723.8" cy="1514.2" r="6.4"/><circle cx="1725.7" cy="1481.3" r="6.4"/><circle cx="1727.1" cy="1472.3" r="6.4"/><circle cx="1729.5" cy="1503.9" r="6.4"/><circle cx="1731.1" cy="1433.7" r="6.4"/><circle cx="1732.8" cy="1471.2" r="6.4"/><circle cx="1735.1" cy="1467.3" r="6.4"/><circle cx="1736.8" cy="1390.5" r="6.4"/><circle cx="1738.7" cy="1326.4" r="6.4"/><circle cx="1740.4" cy="1290.4" r="6.4"/><circle cx="1742.4" cy="1285.1" r="6.4"/><circle cx="1744.3" cy="1438.3" r="6.4"/><circle cx="1746" cy="1455.5" r="6.4"/><circle cx="1747.9" cy="1375" r="6.4"/><circle cx="1750" cy="1440.8" r="6.4"/><circle cx="1751.5" cy="1426.8" r="6.4"/><circle cx="1753.5" cy="1364.1" r="6.4"/><circle cx="1755.4" cy="1413.8" r="6.4"/><circle cx="1757.1" cy="1399.8" r="6.4"/><circle cx="1759" cy="1324.5" r="6.4"/><circle cx="1762.4" cy="1420.1" r="6.4"/><circle cx="1764.6" cy="1349.1" r="6.4"/><circle cx="1766.3" cy="1336.7" r="6.4"/><circle cx="1768.2" cy="1404.1" r="6.4"/><circle cx="1771.1" cy="1340.5" r="6.4"/><circle cx="1772" cy="1420.7" r="6.4"/><circle cx="1773.9" cy="1409.4" r="6.4"/><circle cx="1775.8" cy="1434.1" r="6.4"/><circle cx="1777.6" cy="1546.7" r="6.4"/><circle cx="1779.3" cy="1440.2" r="6.4"/><circle cx="1781.2" cy="1397.9" r="6.4"/><circle cx="1783.5" cy="1435" r="6.4"/><circle cx="1784.8" cy="1507" r="6.4"/><circle cx="1786.7" cy="1573.7" r="6.4"/><circle cx="1788.7" cy="1536.2" r="6.4"/><circle cx="1790.6" cy="1485.3" r="6.4"/><circle cx="1792.5" cy="1531.4" r="6.4"/><circle cx="1794.2" cy="1518.4" r="6.4"/><circle cx="1796.1" cy="1566.8" r="6.4"/><circle cx="1797.7" cy="1448.6" r="6.4"/><circle cx="1799.6" cy="1429.7" r="6.4"/><circle cx="1801.7" cy="1339.4" r="6.4"/><circle cx="1803.6" cy="1574.5" r="6.4"/><circle cx="1805.3" cy="1498.9" r="6.4"/><circle cx="1807.2" cy="1471.7" r="6.4"/><circle cx="1808.9" cy="1413.8" r="6.4"/><circle cx="1810.7" cy="1369.8" r="6.4"/><circle cx="1812.8" cy="1361.2" r="6.4"/><circle cx="1814.5" cy="1322" r="6.4"/><circle cx="1816.4" cy="1328.1" r="6.4"/><circle cx="1818.3" cy="1312.8" r="6.4"/><circle cx="1820" cy="1506.4" r="6.4"/><circle cx="1822.1" cy="1299.8" r="6.4"/><circle cx="1823.7" cy="1396" r="6.4"/><circle cx="1825.6" cy="1410" r="6.4"/><circle cx="1827.9" cy="1404.6" r="6.4"/><circle cx="1829.4" cy="1458.4" r="6.4"/><circle cx="1831.1" cy="1489.9" r="6.4"/><circle cx="1833" cy="1442.1" r="6.4"/><circle cx="1835.2" cy="1458.7" r="6.4"/><circle cx="1836.7" cy="1510.2" r="6.4"/><circle cx="1838.6" cy="1531.1" r="6.4"/><circle cx="1840.3" cy="1463.1" r="6.4"/><circle cx="1842.2" cy="1481.5" r="6.4"/><circle cx="1844.7" cy="1459.3" r="6.4"/><circle cx="1846.1" cy="1294" r="6.4"/><circle cx="1848" cy="1513.8" r="6.4"/><circle cx="1849.7" cy="1418.8" r="6.4"/><circle cx="1851.6" cy="1533.4" r="6.4"/></g>
<path class="tk" d="M258 1011.1v-19M258 1648.9v19M302.42 1011.1v-10M302.42 1648.9v10M346.84 1011.1v-10M346.84 1648.9v10M391.26 1011.1v-19M391.26 1648.9v19M435.68 1011.1v-10M435.68 1648.9v10M480.1 1011.1v-10M480.1 1648.9v10M524.52 1011.1v-19M524.52 1648.9v19M568.94 1011.1v-10M568.94 1648.9v10M613.36 1011.1v-10M613.36 1648.9v10M657.78 1011.1v-19M657.78 1648.9v19M702.2 1011.1v-10M702.2 1648.9v10M746.62 1011.1v-10M746.62 1648.9v10M791.04 1011.1v-19M791.04 1648.9v19M835.46 1011.1v-10M835.46 1648.9v10M879.88 1011.1v-10M879.88 1648.9v10M924.3 1011.1v-19M924.3 1648.9v19M968.72 1011.1v-10M968.72 1648.9v10M1013.14 1011.1v-10M1013.14 1648.9v10M1057.56 1011.1v-19M1057.56 1648.9v19M1101.98 1011.1v-10M1101.98 1648.9v10M1146.4 1011.1v-10M1146.4 1648.9v10M1190.82 1011.1v-19M1190.82 1648.9v19M1235.24 1011.1v-10M1235.24 1648.9v10M1279.66 1011.1v-10M1279.66 1648.9v10M1324.08 1011.1v-19M1324.08 1648.9v19M1368.5 1011.1v-10M1368.5 1648.9v10M1412.92 1011.1v-10M1412.92 1648.9v10M1457.34 1011.1v-19M1457.34 1648.9v19M1501.76 1011.1v-10M1501.76 1648.9v10M1546.18 1011.1v-10M1546.18 1648.9v10M1590.6 1011.1v-19M1590.6 1648.9v19M1635.02 1011.1v-10M1635.02 1648.9v10M1679.44 1011.1v-10M1679.44 1648.9v10M1723.86 1011.1v-19M1723.86 1648.9v19M1768.28 1011.1v-10M1768.28 1648.9v10M1812.7 1011.1v-10M1812.7 1648.9v10M1857.12 1011.1v-19M1857.12 1648.9v19"/>
<path class="tk" style="stroke-width:2.5" d="M226 1071.84h-19M1883.6 1071.84h19M226 1178.78h-19M1883.6 1178.78h19M226 1285.72h-19M1883.6 1285.72h19M226 1392.66h-19M1883.6 1392.66h19M226 1499.6h-19M1883.6 1499.6h19M226 1606.54h-19M1883.6 1606.54h19"/>
<rect class="fr" x="226" y="1011.1" width="1657.6" height="637.8"/>
<text class="l b m" transform="translate(257.7 1715.8) scale(1 1.05)">0</text><text class="l b m" transform="translate(390.96 1715.8) scale(1 1.05)">6</text><text class="l b m" transform="translate(524.22 1715.8) scale(1 1.05)">12</text><text class="l b m" transform="translate(657.48 1715.8) scale(1 1.05)">18</text><text class="l b m" transform="translate(790.74 1715.8) scale(1 1.05)">24</text><text class="l b m" transform="translate(924 1715.8) scale(1 1.05)">30</text><text class="l b m" transform="translate(1057.26 1715.8) scale(1 1.05)">36</text><text class="l b m" transform="translate(1190.52 1715.8) scale(1 1.05)">42</text><text class="l b m" transform="translate(1323.78 1715.8) scale(1 1.05)">48</text><text class="l b m" transform="translate(1457.04 1715.8) scale(1 1.05)">54</text><text class="l b m" transform="translate(1590.3 1715.8) scale(1 1.05)">60</text><text class="l b m" transform="translate(1723.56 1715.8) scale(1 1.05)">66</text><text class="l b m" transform="translate(1856.82 1715.8) scale(1 1.05)">72</text>
<text class="l b e" transform="translate(190.9 1087.34) scale(1 1.05)">40</text><text class="l b e" transform="translate(190.9 1194.28) scale(1 1.05)">30</text><text class="l b e" transform="translate(190.9 1301.22) scale(1 1.05)">20</text><text class="l b e" transform="translate(190.9 1408.16) scale(1 1.05)">10</text><text class="l b e" transform="translate(190.9 1515.1) scale(1 1.05)">0</text><text class="l b e" transform="translate(190.9 1622.04) scale(1 1.05)"><tspan dy="4.6">−</tspan><tspan dy="-4.6">10</tspan></text>
<text class="l m" transform="translate(90.1 1330) rotate(-90) scale(1 1.035)">North (mm)</text>
</g>
<g id="panel3">
<g class="d"><circle cx="258" cy="2016.2" r="6.4"/><circle cx="261.4" cy="2004.7" r="6.4"/><circle cx="263.5" cy="2019.7" r="6.4"/><circle cx="266.5" cy="2009.5" r="6.4"/><circle cx="267.2" cy="2074.7" r="6.4"/><circle cx="268.7" cy="1992.9" r="6.4"/><circle cx="271.6" cy="2078.6" r="6.4"/><circle cx="274.4" cy="2007.2" r="6.4"/><circle cx="276.4" cy="1991.4" r="6.4"/><circle cx="278.5" cy="1971.1" r="6.4"/><circle cx="279.2" cy="2024.5" r="6.4"/><circle cx="282.1" cy="2012" r="6.4"/><circle cx="283.8" cy="2042.6" r="6.4"/><circle cx="285.5" cy="2075.3" r="6.4"/><circle cx="285.9" cy="2022.5" r="6.4"/><circle cx="289.7" cy="2029.2" r="6.4"/><circle cx="291.5" cy="2025.5" r="6.4"/><circle cx="291.7" cy="2014.9" r="6.4"/><circle cx="293.2" cy="1957.5" r="6.4"/><circle cx="295.5" cy="2002.4" r="6.4"/><circle cx="298.4" cy="2016.2" r="6.4"/><circle cx="300.3" cy="2008.2" r="6.4"/><circle cx="302.2" cy="1997.7" r="6.4"/><circle cx="303.1" cy="2044.9" r="6.4"/><circle cx="306" cy="1990.6" r="6.4"/><circle cx="307.7" cy="2032.1" r="6.4"/><circle cx="309.6" cy="2055.1" r="6.4"/><circle cx="311.7" cy="2043.6" r="6.4"/><circle cx="313.3" cy="2087" r="6.4"/><circle cx="315" cy="2099.8" r="6.4"/><circle cx="317.1" cy="2104" r="6.4"/><circle cx="318.8" cy="2126.6" r="6.4"/><circle cx="321.3" cy="2062.7" r="6.4"/><circle cx="324.6" cy="2096" r="6.4"/><circle cx="326.1" cy="2067.5" r="6.4"/><circle cx="328.4" cy="2102.1" r="6.4"/><circle cx="329.9" cy="2065.6" r="6.4"/><circle cx="331.8" cy="2028.9" r="6.4"/><circle cx="333.6" cy="1991.2" r="6.4"/><circle cx="335.5" cy="2055.6" r="6.4"/><circle cx="337.6" cy="2079.1" r="6.4"/><circle cx="339.1" cy="2147.1" r="6.4"/><circle cx="341" cy="2010.5" r="6.4"/><circle cx="343.3" cy="2140.7" r="6.4"/><circle cx="344.7" cy="2156.6" r="6.4"/><circle cx="346.6" cy="2046.5" r="6.4"/><circle cx="348.1" cy="2021.6" r="6.4"/><circle cx="350.5" cy="2017" r="6.4"/><circle cx="352.9" cy="2051.2" r="6.4"/><circle cx="354.2" cy="2025.4" r="6.4"/><circle cx="356.1" cy="2013" r="6.4"/><circle cx="357.7" cy="2057" r="6.4"/><circle cx="359.6" cy="1956.9" r="6.4"/><circle cx="361.5" cy="2219.2" r="6.4"/><circle cx="363.4" cy="2257.1" r="6.4"/><circle cx="365.1" cy="2238.3" r="6.4"/><circle cx="367.2" cy="2173.8" r="6.4"/><circle cx="369.1" cy="2246.5" r="6.4"/><circle cx="370.7" cy="2206.4" r="6.4"/><circle cx="372.4" cy="2230.7" r="6.4"/><circle cx="374.5" cy="2183.8" r="6.4"/><circle cx="376.2" cy="2115.3" r="6.4"/><circle cx="378.1" cy="2258" r="6.4"/><circle cx="380.2" cy="2225.5" r="6.4"/><circle cx="382" cy="2138.3" r="6.4"/><circle cx="383.5" cy="2158.9" r="6.4"/><circle cx="385.8" cy="2162.7" r="6.4"/><circle cx="387.3" cy="2187.8" r="6.4"/><circle cx="389.2" cy="2185.3" r="6.4"/><circle cx="391.1" cy="2178.6" r="6.4"/><circle cx="393.1" cy="2151.8" r="6.4"/><circle cx="394.8" cy="2100.6" r="6.4"/><circle cx="396.3" cy="2048.8" r="6.4"/><circle cx="398.6" cy="2144.8" r="6.4"/><circle cx="400.3" cy="2166.2" r="6.4"/><circle cx="402.6" cy="2046.5" r="6.4"/><circle cx="404.2" cy="2132.3" r="6.4"/><circle cx="405.9" cy="2070" r="6.4"/><circle cx="408.4" cy="2034" r="6.4"/><circle cx="411.8" cy="2043.6" r="6.4"/><circle cx="413.3" cy="2021.2" r="6.4"/><circle cx="415.4" cy="2028.3" r="6.4"/><circle cx="417.4" cy="2010.1" r="6.4"/><circle cx="418.9" cy="2005.3" r="6.4"/><circle cx="420.8" cy="2000" r="6.4"/><circle cx="422.5" cy="1916.4" r="6.4"/><circle cx="424.1" cy="1967.1" r="6.4"/><circle cx="426.5" cy="1970.9" r="6.4"/><circle cx="427.5" cy="2060.8" r="6.4"/><circle cx="429.4" cy="2057.9" r="6.4"/><circle cx="431.9" cy="2136.5" r="6.4"/><circle cx="433.6" cy="1963.2" r="6.4"/><circle cx="435.3" cy="2175.4" r="6.4"/><circle cx="437.6" cy="1967.6" r="6.4"/><circle cx="439.4" cy="2058.3" r="6.4"/><circle cx="440.9" cy="2119.5" r="6.4"/><circle cx="442.8" cy="1914.4" r="6.4"/><circle cx="444.7" cy="2037.8" r="6.4"/><circle cx="446.6" cy="2028.9" r="6.4"/><circle cx="448.5" cy="2037.8" r="6.4"/><circle cx="450.5" cy="1975.7" r="6.4"/><circle cx="452" cy="1960" r="6.4"/><circle cx="455.6" cy="1946" r="6.4"/><circle cx="457.7" cy="1965.1" r="6.4"/><circle cx="459.5" cy="1912" r="6.4"/><circle cx="461" cy="1920.2" r="6.4"/><circle cx="462.9" cy="1949.8" r="6.4"/><circle cx="465.2" cy="1991.2" r="6.4"/><circle cx="467.3" cy="1946.6" r="6.4"/><circle cx="468.9" cy="1847.5" r="6.4"/><circle cx="470.9" cy="1920.6" r="6.4"/><circle cx="496.7" cy="2415.4" r="6.4"/><circle cx="498.3" cy="2221.7" r="6.4"/><circle cx="500.4" cy="2225.9" r="6.4"/><circle cx="502.4" cy="2279.3" r="6.4"/><circle cx="504.2" cy="2056" r="6.4"/><circle cx="505.8" cy="2155.3" r="6.4"/><circle cx="507.5" cy="1991.2" r="6.4"/><circle cx="509.6" cy="2070.9" r="6.4"/><circle cx="511.3" cy="1971.5" r="6.4"/><circle cx="513.2" cy="2047.8" r="6.4"/><circle cx="514.9" cy="1957.9" r="6.4"/><circle cx="516.8" cy="2020.6" r="6.4"/><circle cx="518.8" cy="1962.3" r="6.4"/><circle cx="522.6" cy="2004" r="6.4"/><circle cx="524.1" cy="2026.4" r="6.4"/><circle cx="526.4" cy="2020.1" r="6.4"/><circle cx="528.1" cy="1987.5" r="6.4"/><circle cx="529.9" cy="2104.4" r="6.4"/><circle cx="532.4" cy="1997.7" r="6.4"/><circle cx="533.6" cy="2043.2" r="6.4"/><circle cx="535.5" cy="2051.8" r="6.4"/><circle cx="537.2" cy="2012" r="6.4"/><circle cx="539.1" cy="1992.9" r="6.4"/><circle cx="541" cy="1975.1" r="6.4"/><circle cx="543" cy="2006.3" r="6.4"/><circle cx="544.7" cy="2149.3" r="6.4"/><circle cx="546.8" cy="1975.1" r="6.4"/><circle cx="548.7" cy="2002.8" r="6.4"/><circle cx="550.6" cy="1980.4" r="6.4"/><circle cx="552" cy="2017.2" r="6.4"/><circle cx="554.1" cy="1958.1" r="6.4"/><circle cx="555.8" cy="1953.7" r="6.4"/><circle cx="557.7" cy="2022" r="6.4"/><circle cx="559.6" cy="2072.8" r="6.4"/><circle cx="561.5" cy="1998.6" r="6.4"/><circle cx="563" cy="1988.7" r="6.4"/><circle cx="565.3" cy="2018.1" r="6.4"/><circle cx="566.9" cy="2053.2" r="6.4"/><circle cx="568.8" cy="2057" r="6.4"/><circle cx="570.5" cy="2123.3" r="6.4"/><circle cx="572.6" cy="2108.2" r="6.4"/><circle cx="574.5" cy="2013" r="6.4"/><circle cx="575.9" cy="2030.8" r="6.4"/><circle cx="578" cy="2008.2" r="6.4"/><circle cx="580.3" cy="2013" r="6.4"/><circle cx="581.6" cy="1936.4" r="6.4"/><circle cx="583.5" cy="1926.5" r="6.4"/><circle cx="585.6" cy="2021.6" r="6.4"/><circle cx="587" cy="2031.1" r="6.4"/><circle cx="589.8" cy="2027.3" r="6.4"/><circle cx="590.8" cy="2124.5" r="6.4"/><circle cx="592.9" cy="2096" r="6.4"/><circle cx="594.6" cy="2151.5" r="6.4"/><circle cx="596.5" cy="2125.4" r="6.4"/><circle cx="598.4" cy="2052.8" r="6.4"/><circle cx="600.4" cy="2121.2" r="6.4"/><circle cx="602.3" cy="2147.1" r="6.4"/><circle cx="604.8" cy="2043.6" r="6.4"/><circle cx="607.1" cy="2045.5" r="6.4"/><circle cx="607.6" cy="2168.5" r="6.4"/><circle cx="625.9" cy="2351.7" r="6.4"/><circle cx="627.9" cy="2296.8" r="6.4"/><circle cx="629.8" cy="2356.2" r="6.4"/><circle cx="631.9" cy="2221.1" r="6.4"/><circle cx="633.6" cy="2291.5" r="6.4"/><circle cx="635.4" cy="2123.3" r="6.4"/><circle cx="637.1" cy="2180.3" r="6.4"/><circle cx="638.6" cy="2241.8" r="6.4"/><circle cx="640.9" cy="2250" r="6.4"/><circle cx="643.4" cy="2239.8" r="6.4"/><circle cx="644.7" cy="2148.2" r="6.4"/><circle cx="646.5" cy="2214" r="6.4"/><circle cx="648.2" cy="2159.7" r="6.4"/><circle cx="650.1" cy="2178.6" r="6.4"/><circle cx="653.4" cy="2135.4" r="6.4"/><circle cx="654.9" cy="2185.3" r="6.4"/><circle cx="657.8" cy="2174.8" r="6.4"/><circle cx="660.6" cy="2185.9" r="6.4"/><circle cx="661.6" cy="2163.3" r="6.4"/><circle cx="663.3" cy="2253.2" r="6.4"/><circle cx="664.8" cy="2149.2" r="6.4"/><circle cx="666.9" cy="2170" r="6.4"/><circle cx="668.7" cy="2106.9" r="6.4"/><circle cx="670.8" cy="2115.9" r="6.4"/><circle cx="672.3" cy="2087.7" r="6.4"/><circle cx="674" cy="2111.7" r="6.4"/><circle cx="675.9" cy="2144.2" r="6.4"/><circle cx="677.8" cy="2043.4" r="6.4"/><circle cx="679.8" cy="2130.4" r="6.4"/><circle cx="681.7" cy="2164.5" r="6.4"/><circle cx="683.4" cy="2101.5" r="6.4"/><circle cx="684.5" cy="2140.4" r="6.4"/><circle cx="687.8" cy="2130.4" r="6.4"/><circle cx="688.9" cy="2201.8" r="6.4"/><circle cx="690.9" cy="2143.2" r="6.4"/><circle cx="693.2" cy="2151.5" r="6.4"/><circle cx="694.7" cy="2161.4" r="6.4"/><circle cx="697" cy="2151.8" r="6.4"/><circle cx="698.3" cy="2185.9" r="6.4"/><circle cx="700.2" cy="2016" r="6.4"/><circle cx="702.1" cy="2118.5" r="6.4"/><circle cx="703.9" cy="2224.5" r="6.4"/><circle cx="705.6" cy="2156.6" r="6.4"/><circle cx="707.5" cy="2127" r="6.4"/><circle cx="709.4" cy="2163.3" r="6.4"/><circle cx="711.3" cy="2124.1" r="6.4"/><circle cx="713.2" cy="2155.1" r="6.4"/><circle cx="715" cy="2083.9" r="6.4"/><circle cx="717.1" cy="2159.5" r="6.4"/><circle cx="718.6" cy="2202.9" r="6.4"/><circle cx="720.5" cy="2231.2" r="6.4"/><circle cx="721.8" cy="2171.9" r="6.4"/><circle cx="724.7" cy="2174.8" r="6.4"/><circle cx="726.1" cy="2141.1" r="6.4"/><circle cx="728" cy="2193.9" r="6.4"/><circle cx="729.9" cy="2199.7" r="6.4"/><circle cx="731.4" cy="2089.7" r="6.4"/><circle cx="733.5" cy="2160.8" r="6.4"/><circle cx="735.4" cy="2074.7" r="6.4"/><circle cx="738.1" cy="2084.9" r="6.4"/><circle cx="740" cy="2087.7" r="6.4"/><circle cx="741" cy="2125.1" r="6.4"/><circle cx="742.7" cy="2138.4" r="6.4"/><circle cx="745.4" cy="2127" r="6.4"/><circle cx="746.5" cy="2110.3" r="6.4"/><circle cx="748.3" cy="1977.4" r="6.4"/><circle cx="750.2" cy="2092.5" r="6.4"/><circle cx="752.1" cy="2063.1" r="6.4"/><circle cx="753.4" cy="2145.1" r="6.4"/><circle cx="757.6" cy="2214.2" r="6.4"/><circle cx="759.2" cy="2140.4" r="6.4"/><circle cx="761.1" cy="2039" r="6.4"/><circle cx="762.6" cy="2109.7" r="6.4"/><circle cx="764.9" cy="2057.9" r="6.4"/><circle cx="766.8" cy="2106.9" r="6.4"/><circle cx="768.7" cy="2055.1" r="6.4"/><circle cx="770.6" cy="2035" r="6.4"/><circle cx="774.5" cy="2054.1" r="6.4"/><circle cx="776.4" cy="2030.2" r="6.4"/><circle cx="777.9" cy="2113.2" r="6.4"/><circle cx="779.2" cy="2138.1" r="6.4"/><circle cx="781.5" cy="2108.8" r="6.4"/><circle cx="783.5" cy="2072.4" r="6.4"/><circle cx="785" cy="2086.8" r="6.4"/><circle cx="786.9" cy="2136.5" r="6.4"/><circle cx="789.2" cy="2125.6" r="6.4"/><circle cx="791.7" cy="2077.2" r="6.4"/><circle cx="791.7" cy="2088.7" r="6.4"/><circle cx="794.6" cy="2094.1" r="6.4"/><circle cx="796.5" cy="2131.7" r="6.4"/><circle cx="798.4" cy="2147.1" r="6.4"/><circle cx="800.3" cy="2077.2" r="6.4"/><circle cx="802.2" cy="2123.1" r="6.4"/><circle cx="804.1" cy="2106.5" r="6.4"/><circle cx="805.7" cy="2096" r="6.4"/><circle cx="807" cy="2119.3" r="6.4"/><circle cx="809.9" cy="2111.7" r="6.4"/><circle cx="811.4" cy="2009.7" r="6.4"/><circle cx="813" cy="2063.9" r="6.4"/><circle cx="814.9" cy="2131" r="6.4"/><circle cx="816.8" cy="2160.4" r="6.4"/><circle cx="818.6" cy="2141.3" r="6.4"/><circle cx="820.5" cy="2231.8" r="6.4"/><circle cx="822.6" cy="2105.9" r="6.4"/><circle cx="824.3" cy="2038.8" r="6.4"/><circle cx="825.8" cy="2119.7" r="6.4"/><circle cx="827.7" cy="2075.7" r="6.4"/><circle cx="830" cy="2153" r="6.4"/><circle cx="831.6" cy="2114.5" r="6.4"/><circle cx="833.5" cy="2084.5" r="6.4"/><circle cx="835.4" cy="2050.3" r="6.4"/><circle cx="837.3" cy="2088.7" r="6.4"/><circle cx="839.2" cy="2071.3" r="6.4"/><circle cx="840.6" cy="2127" r="6.4"/><circle cx="842.7" cy="2099.2" r="6.4"/><circle cx="844.6" cy="2133.1" r="6.4"/><circle cx="846.5" cy="2060.6" r="6.4"/><circle cx="847.8" cy="2119.7" r="6.4"/><circle cx="850.1" cy="2090.6" r="6.4"/><circle cx="852" cy="2160.3" r="6.4"/><circle cx="854" cy="2116.4" r="6.4"/><circle cx="855.5" cy="2099.2" r="6.4"/><circle cx="857.4" cy="2102.5" r="6.4"/><circle cx="860.3" cy="2100.2" r="6.4"/><circle cx="860.8" cy="2039.8" r="6.4"/><circle cx="863.1" cy="2074.7" r="6.4"/><circle cx="865.1" cy="2036.9" r="6.4"/><circle cx="867" cy="2013.9" r="6.4"/><circle cx="870.6" cy="2057.9" r="6.4"/><circle cx="872.7" cy="2018.7" r="6.4"/><circle cx="874.4" cy="2131" r="6.4"/><circle cx="876.1" cy="2117.2" r="6.4"/><circle cx="877.9" cy="2073.8" r="6.4"/><circle cx="880" cy="2062.7" r="6.4"/><circle cx="881.7" cy="2041.1" r="6.4"/><circle cx="883.2" cy="2098.3" r="6.4"/><circle cx="885.3" cy="2086.4" r="6.4"/><circle cx="887.1" cy="2070" r="6.4"/><circle cx="889" cy="2114" r="6.4"/><circle cx="890.9" cy="2144.4" r="6.4"/><circle cx="893.2" cy="2098.8" r="6.4"/><circle cx="894.5" cy="2206.6" r="6.4"/><circle cx="896.4" cy="2179.6" r="6.4"/><circle cx="898.5" cy="2074.3" r="6.4"/><circle cx="900.4" cy="2086.8" r="6.4"/><circle cx="901.8" cy="2131.9" r="6.4"/><circle cx="903.9" cy="2224" r="6.4"/><circle cx="905.6" cy="2207.7" r="6.4"/><circle cx="907.5" cy="2144.8" r="6.4"/><circle cx="909.4" cy="2234.5" r="6.4"/><circle cx="911.4" cy="2242.3" r="6.4"/><circle cx="912.9" cy="2161" r="6.4"/><circle cx="914.8" cy="2203.1" r="6.4"/><circle cx="916.7" cy="2211.5" r="6.4"/><circle cx="918.2" cy="2170.4" r="6.4"/><circle cx="920.2" cy="2154.1" r="6.4"/><circle cx="922.4" cy="2177.3" r="6.4"/><circle cx="924.4" cy="2165.2" r="6.4"/><circle cx="925.7" cy="2115.1" r="6.4"/><circle cx="927.8" cy="2076.5" r="6.4"/><circle cx="929.9" cy="2153.2" r="6.4"/><circle cx="931.6" cy="2100.2" r="6.4"/><circle cx="933.9" cy="2115.1" r="6.4"/><circle cx="935.5" cy="2090.2" r="6.4"/><circle cx="937.8" cy="2094.4" r="6.4"/><circle cx="939.3" cy="2120.8" r="6.4"/><circle cx="940.6" cy="2066.2" r="6.4"/><circle cx="942.5" cy="2048.2" r="6.4"/><circle cx="944.5" cy="2110.1" r="6.4"/><circle cx="946.4" cy="2010.9" r="6.4"/><circle cx="948.3" cy="2071.3" r="6.4"/><circle cx="950.2" cy="2023.3" r="6.4"/><circle cx="952.1" cy="2111.3" r="6.4"/><circle cx="953.6" cy="2036.9" r="6.4"/><circle cx="955.9" cy="2043.6" r="6.4"/><circle cx="957.8" cy="2048.4" r="6.4"/><circle cx="959.4" cy="2105" r="6.4"/><circle cx="960.7" cy="2074.3" r="6.4"/><circle cx="963.2" cy="2051.8" r="6.4"/><circle cx="964.9" cy="2177.9" r="6.4"/><circle cx="966.5" cy="2115.5" r="6.4"/><circle cx="968.6" cy="2155.3" r="6.4"/><circle cx="970.3" cy="2075.3" r="6.4"/><circle cx="973.2" cy="2116.1" r="6.4"/><circle cx="974.1" cy="2100.6" r="6.4"/><circle cx="976" cy="2142.3" r="6.4"/><circle cx="977.9" cy="2069.4" r="6.4"/><circle cx="979.8" cy="2116.8" r="6.4"/><circle cx="981.6" cy="1960.2" r="6.4"/><circle cx="983.5" cy="2045.1" r="6.4"/><circle cx="985.6" cy="2074.9" r="6.4"/><circle cx="987.5" cy="2086.4" r="6.4"/><circle cx="990.8" cy="2111.8" r="6.4"/><circle cx="991.3" cy="2088.7" r="6.4"/><circle cx="992.7" cy="2124.5" r="6.4"/><circle cx="994.6" cy="2092.5" r="6.4"/><circle cx="996.5" cy="2147.1" r="6.4"/><circle cx="998" cy="2155.1" r="6.4"/><circle cx="999.9" cy="2083" r="6.4"/><circle cx="1002" cy="2180" r="6.4"/><circle cx="1003.8" cy="2153.8" r="6.4"/><circle cx="1005.3" cy="2011.1" r="6.4"/><circle cx="1007.6" cy="2080.1" r="6.4"/><circle cx="1009.5" cy="1979.7" r="6.4"/><circle cx="1011.4" cy="2014.9" r="6.4"/><circle cx="1013.1" cy="2168.5" r="6.4"/><circle cx="1015.1" cy="2118.2" r="6.4"/><circle cx="1016.2" cy="2202.3" r="6.4"/><circle cx="1018.7" cy="2184.6" r="6.4"/><circle cx="1020.6" cy="2028.1" r="6.4"/><circle cx="1022.3" cy="2232.2" r="6.4"/><circle cx="1024.2" cy="2205.8" r="6.4"/><circle cx="1026" cy="2151.3" r="6.4"/><circle cx="1027.9" cy="2105.3" r="6.4"/><circle cx="1045.9" cy="2052.8" r="6.4"/><circle cx="1048.3" cy="1996.3" r="6.4"/><circle cx="1050.6" cy="2000.5" r="6.4"/><circle cx="1051.6" cy="2064.6" r="6.4"/><circle cx="1054.1" cy="2052.2" r="6.4"/><circle cx="1055.6" cy="2095.4" r="6.4"/><circle cx="1056.4" cy="2118.4" r="6.4"/><circle cx="1058.3" cy="2065.6" r="6.4"/><circle cx="1061.2" cy="2119.7" r="6.4"/><circle cx="1064" cy="2065.2" r="6.4"/><circle cx="1065" cy="2120.3" r="6.4"/><circle cx="1066.5" cy="2037.8" r="6.4"/><circle cx="1068.4" cy="2024.5" r="6.4"/><circle cx="1070.2" cy="1989.2" r="6.4"/><circle cx="1072.4" cy="1884.2" r="6.4"/><circle cx="1074.2" cy="1906.6" r="6.4"/><circle cx="1075.9" cy="1969.3" r="6.4"/><circle cx="1077.8" cy="1948.7" r="6.4"/><circle cx="1079.7" cy="2044.5" r="6.4"/><circle cx="1081.5" cy="1839.4" r="6.4"/><circle cx="1083.2" cy="1999.2" r="6.4"/><circle cx="1085.1" cy="2013.5" r="6.4"/><circle cx="1087" cy="1984.8" r="6.4"/><circle cx="1088.9" cy="1989.4" r="6.4"/><circle cx="1090.8" cy="2006.3" r="6.4"/><circle cx="1092.4" cy="2023.5" r="6.4"/><circle cx="1094.3" cy="1981.4" r="6.4"/><circle cx="1096.5" cy="2096.7" r="6.4"/><circle cx="1098.8" cy="2022.9" r="6.4"/><circle cx="1100.1" cy="1957.5" r="6.4"/><circle cx="1102" cy="2084.9" r="6.4"/><circle cx="1103.7" cy="2072.6" r="6.4"/><circle cx="1105.3" cy="1990.6" r="6.4"/><circle cx="1107.4" cy="2048" r="6.4"/><circle cx="1109.1" cy="1986.4" r="6.4"/><circle cx="1111.2" cy="1960.4" r="6.4"/><circle cx="1113.1" cy="1956" r="6.4"/><circle cx="1114.8" cy="1905.3" r="6.4"/><circle cx="1116.7" cy="1997.1" r="6.4"/><circle cx="1118.6" cy="1936.2" r="6.4"/><circle cx="1120.6" cy="1945.1" r="6.4"/><circle cx="1122.1" cy="2086.8" r="6.4"/><circle cx="1124.2" cy="2009.1" r="6.4"/><circle cx="1125.9" cy="2078.2" r="6.4"/><circle cx="1127.8" cy="2051.2" r="6.4"/><circle cx="1129.7" cy="2175" r="6.4"/><circle cx="1131.7" cy="2092.5" r="6.4"/><circle cx="1133.2" cy="2042.1" r="6.4"/><circle cx="1135.5" cy="2080.5" r="6.4"/><circle cx="1137" cy="2179.6" r="6.4"/><circle cx="1138.9" cy="2158.2" r="6.4"/><circle cx="1140.8" cy="2210.2" r="6.4"/><circle cx="1142.6" cy="2189.7" r="6.4"/><circle cx="1144.5" cy="2147.8" r="6.4"/><circle cx="1146.4" cy="2069.4" r="6.4"/><circle cx="1148.3" cy="2042.2" r="6.4"/><circle cx="1150.2" cy="2177.1" r="6.4"/><circle cx="1151.7" cy="2102.1" r="6.4"/><circle cx="1153.7" cy="2223.6" r="6.4"/><circle cx="1157.3" cy="2214.6" r="6.4"/><circle cx="1159.4" cy="2341.2" r="6.4"/><circle cx="1161.3" cy="2401.4" r="6.4"/><circle cx="1163.2" cy="2325.4" r="6.4"/><circle cx="1164.2" cy="2242.7" r="6.4"/><circle cx="1166.7" cy="2228.8" r="6.4"/><circle cx="1168.6" cy="2200.2" r="6.4"/><circle cx="1170.9" cy="2243.3" r="6.4"/><circle cx="1172.3" cy="2289.2" r="6.4"/><circle cx="1174.4" cy="2311.6" r="6.4"/><circle cx="1176" cy="2206.4" r="6.4"/><circle cx="1177.8" cy="2176.5" r="6.4"/><circle cx="1179.5" cy="2137.1" r="6.4"/><circle cx="1181.4" cy="2153.2" r="6.4"/><circle cx="1185.2" cy="2131.4" r="6.4"/><circle cx="1186.8" cy="2114.5" r="6.4"/><circle cx="1189.1" cy="2187.8" r="6.4"/><circle cx="1191" cy="2110.1" r="6.4"/><circle cx="1192.9" cy="2105.3" r="6.4"/><circle cx="1194.4" cy="2176.5" r="6.4"/><circle cx="1196.1" cy="2148" r="6.4"/><circle cx="1198.2" cy="2096.4" r="6.4"/><circle cx="1200.2" cy="2197.8" r="6.4"/><circle cx="1202.1" cy="2083.2" r="6.4"/><circle cx="1203.6" cy="2046.6" r="6.4"/><circle cx="1205.7" cy="2177.1" r="6.4"/><circle cx="1207.4" cy="2023.5" r="6.4"/><circle cx="1209.3" cy="2033.1" r="6.4"/><circle cx="1211.2" cy="2089.7" r="6.4"/><circle cx="1213.2" cy="2106.1" r="6.4"/><circle cx="1214.9" cy="2163.3" r="6.4"/><circle cx="1215.8" cy="2055.4" r="6.4"/><circle cx="1218.7" cy="2057.9" r="6.4"/><circle cx="1220.4" cy="2123.1" r="6.4"/><circle cx="1222.3" cy="2067.5" r="6.4"/><circle cx="1224.1" cy="2013.9" r="6.4"/><circle cx="1226" cy="2032.3" r="6.4"/><circle cx="1227.7" cy="1984.5" r="6.4"/><circle cx="1229.2" cy="2110.1" r="6.4"/><circle cx="1231.5" cy="2129.1" r="6.4"/><circle cx="1234" cy="2110.7" r="6.4"/><circle cx="1235" cy="2159.5" r="6.4"/><circle cx="1237.1" cy="2181.3" r="6.4"/><circle cx="1238.8" cy="2100.2" r="6.4"/><circle cx="1240.7" cy="2153.9" r="6.4"/><circle cx="1242.6" cy="2193.4" r="6.4"/><circle cx="1244.9" cy="2100.2" r="6.4"/><circle cx="1246.5" cy="2223.6" r="6.4"/><circle cx="1248.2" cy="2235.4" r="6.4"/><circle cx="1250.2" cy="2338.4" r="6.4"/><circle cx="1251.9" cy="2276.4" r="6.4"/><circle cx="1253.8" cy="2272" r="6.4"/><circle cx="1255.6" cy="2254.4" r="6.4"/><circle cx="1257.6" cy="2071.5" r="6.4"/><circle cx="1258.9" cy="2142.3" r="6.4"/><circle cx="1261" cy="2124.1" r="6.4"/><circle cx="1262.7" cy="2149" r="6.4"/><circle cx="1264.6" cy="2140.4" r="6.4"/><circle cx="1266.5" cy="2131.7" r="6.4"/><circle cx="1268.5" cy="2090.4" r="6.4"/><circle cx="1271.3" cy="2148.4" r="6.4"/><circle cx="1272.3" cy="2162.4" r="6.4"/><circle cx="1275.2" cy="2151.5" r="6.4"/><circle cx="1275.9" cy="2198.5" r="6.4"/><circle cx="1277.8" cy="2186.3" r="6.4"/><circle cx="1279.6" cy="2076.6" r="6.4"/><circle cx="1281.5" cy="2114.3" r="6.4"/><circle cx="1283.4" cy="2174" r="6.4"/><circle cx="1285.1" cy="2105.3" r="6.4"/><circle cx="1287" cy="2160.4" r="6.4"/><circle cx="1333.5" cy="2050.9" r="6.4"/><circle cx="1335.4" cy="2057" r="6.4"/><circle cx="1337" cy="2062.7" r="6.4"/><circle cx="1339.2" cy="2044.5" r="6.4"/><circle cx="1340.8" cy="2109.2" r="6.4"/><circle cx="1342.5" cy="2033.6" r="6.4"/><circle cx="1345" cy="2045.5" r="6.4"/><circle cx="1346.3" cy="2015.5" r="6.4"/><circle cx="1348.4" cy="2082" r="6.4"/><circle cx="1350" cy="2091" r="6.4"/><circle cx="1351.7" cy="2118.5" r="6.4"/><circle cx="1353.6" cy="2145.5" r="6.4"/><circle cx="1355.5" cy="2032.1" r="6.4"/><circle cx="1356.5" cy="2071.3" r="6.4"/><circle cx="1359.3" cy="2069.4" r="6.4"/><circle cx="1360.3" cy="2058.9" r="6.4"/><circle cx="1363" cy="2119.5" r="6.4"/><circle cx="1365.1" cy="2057" r="6.4"/><circle cx="1366.6" cy="2022.5" r="6.4"/><circle cx="1367.9" cy="2038.8" r="6.4"/><circle cx="1370.8" cy="2028.3" r="6.4"/><circle cx="1371.5" cy="2078.2" r="6.4"/><circle cx="1374.3" cy="2044.5" r="6.4"/><circle cx="1375.7" cy="2064.6" r="6.4"/><circle cx="1378.2" cy="2077.2" r="6.4"/><circle cx="1379.1" cy="2036.9" r="6.4"/><circle cx="1381.4" cy="2152" r="6.4"/><circle cx="1383.3" cy="2121.2" r="6.4"/><circle cx="1385.3" cy="2182.1" r="6.4"/><circle cx="1387.2" cy="2087.4" r="6.4"/><circle cx="1388.7" cy="2040.3" r="6.4"/><circle cx="1390.6" cy="2057" r="6.4"/><circle cx="1392.5" cy="1977.4" r="6.4"/><circle cx="1394.2" cy="2018.3" r="6.4"/><circle cx="1396.4" cy="2053.2" r="6.4"/><circle cx="1399.2" cy="2046.5" r="6.4"/><circle cx="1399.8" cy="2069" r="6.4"/><circle cx="1403.6" cy="1998" r="6.4"/><circle cx="1404" cy="2047.4" r="6.4"/><circle cx="1405.3" cy="2095" r="6.4"/><circle cx="1407.3" cy="2139.8" r="6.4"/><circle cx="1409.4" cy="2101.1" r="6.4"/><circle cx="1411.1" cy="2087.9" r="6.4"/><circle cx="1413.2" cy="2047" r="6.4"/><circle cx="1414.5" cy="2053.7" r="6.4"/><circle cx="1416.4" cy="2016" r="6.4"/><circle cx="1418.4" cy="2071.9" r="6.4"/><circle cx="1420.3" cy="2023.5" r="6.4"/><circle cx="1422.2" cy="2064.1" r="6.4"/><circle cx="1424.1" cy="2051.2" r="6.4"/><circle cx="1426" cy="2131.4" r="6.4"/><circle cx="1427.7" cy="2120.1" r="6.4"/><circle cx="1429.5" cy="2034.6" r="6.4"/><circle cx="1431.4" cy="2022" r="6.4"/><circle cx="1433.3" cy="2047.6" r="6.4"/><circle cx="1435.2" cy="2059.8" r="6.4"/><circle cx="1437.1" cy="2000.2" r="6.4"/><circle cx="1438.5" cy="2366.9" r="6.4"/><circle cx="1440.6" cy="2452.2" r="6.4"/><circle cx="1442.7" cy="2369.4" r="6.4"/><circle cx="1444.6" cy="2356.2" r="6.4"/><circle cx="1446.4" cy="2350.6" r="6.4"/><circle cx="1448.2" cy="2303.9" r="6.4"/><circle cx="1450.1" cy="2319.9" r="6.4"/><circle cx="1464.7" cy="2036.9" r="6.4"/><circle cx="1466.6" cy="2032.5" r="6.4"/><circle cx="1468.5" cy="2103.4" r="6.4"/><circle cx="1470.4" cy="2069.4" r="6.4"/><circle cx="1471.9" cy="1997.7" r="6.4"/><circle cx="1474" cy="1964.6" r="6.4"/><circle cx="1475.8" cy="1992.9" r="6.4"/><circle cx="1477.7" cy="1985.8" r="6.4"/><circle cx="1479.6" cy="2020.6" r="6.4"/><circle cx="1481.5" cy="2007.8" r="6.4"/><circle cx="1484" cy="2025" r="6.4"/><circle cx="1485.1" cy="2047.8" r="6.4"/><circle cx="1487" cy="1978.7" r="6.4"/><circle cx="1488.8" cy="1933.6" r="6.4"/><circle cx="1490.5" cy="1954.4" r="6.4"/><circle cx="1492.4" cy="2093.5" r="6.4"/><circle cx="1494.3" cy="2000.3" r="6.4"/><circle cx="1496.2" cy="2090" r="6.4"/><circle cx="1497.9" cy="2148.2" r="6.4"/><circle cx="1499.7" cy="1991" r="6.4"/><circle cx="1503.5" cy="2074.9" r="6.4"/><circle cx="1505.4" cy="1985.6" r="6.4"/><circle cx="1507.3" cy="2123.1" r="6.4"/><circle cx="1509" cy="2058.3" r="6.4"/><circle cx="1511" cy="2046.1" r="6.4"/><circle cx="1513.1" cy="1991" r="6.4"/><circle cx="1514.6" cy="2066" r="6.4"/><circle cx="1516.5" cy="2027.1" r="6.4"/><circle cx="1518.8" cy="1995.8" r="6.4"/><circle cx="1520.3" cy="2105" r="6.4"/><circle cx="1522.1" cy="2052.2" r="6.4"/><circle cx="1524" cy="2075.7" r="6.4"/><circle cx="1524.5" cy="2149.9" r="6.4"/><circle cx="1527.4" cy="2148.6" r="6.4"/><circle cx="1529.5" cy="2091.6" r="6.4"/><circle cx="1531.2" cy="2046.6" r="6.4"/><circle cx="1533.2" cy="2107.4" r="6.4"/><circle cx="1535.1" cy="2158.5" r="6.4"/><circle cx="1536" cy="2078.6" r="6.4"/><circle cx="1538.9" cy="2124.1" r="6.4"/><circle cx="1540.8" cy="2127" r="6.4"/><circle cx="1542.7" cy="2089.1" r="6.4"/><circle cx="1544.6" cy="2079.7" r="6.4"/><circle cx="1546.4" cy="2115.5" r="6.4"/><circle cx="1547.9" cy="2182.1" r="6.4"/><circle cx="1549.4" cy="2159.1" r="6.4"/><circle cx="1551.7" cy="2141.9" r="6.4"/><circle cx="1553.6" cy="2215.4" r="6.4"/><circle cx="1555.3" cy="2029.2" r="6.4"/><circle cx="1557.3" cy="2132.5" r="6.4"/><circle cx="1559.6" cy="2158.3" r="6.4"/><circle cx="1559.9" cy="2004.7" r="6.4"/><circle cx="1563.8" cy="2005.9" r="6.4"/><circle cx="1564.7" cy="2056" r="6.4"/><circle cx="1566.4" cy="2113.6" r="6.4"/><circle cx="1568.2" cy="1951.6" r="6.4"/><circle cx="1570.3" cy="2024.8" r="6.4"/><circle cx="1572.2" cy="1983.3" r="6.4"/><circle cx="1573.9" cy="1958.1" r="6.4"/><circle cx="1601.6" cy="1954" r="6.4"/><circle cx="1603.6" cy="1897.2" r="6.4"/><circle cx="1605.3" cy="1968" r="6.4"/><circle cx="1607.2" cy="2047.4" r="6.4"/><circle cx="1609.7" cy="1972.8" r="6.4"/><circle cx="1611.2" cy="1978" r="6.4"/><circle cx="1612.9" cy="2029.2" r="6.4"/><circle cx="1614.7" cy="1957.1" r="6.4"/><circle cx="1616.6" cy="2045.3" r="6.4"/><circle cx="1618.3" cy="2006.5" r="6.4"/><circle cx="1620.2" cy="2070.2" r="6.4"/><circle cx="1622.1" cy="2101.7" r="6.4"/><circle cx="1624" cy="2118.5" r="6.4"/><circle cx="1625.6" cy="1939.9" r="6.4"/><circle cx="1627.7" cy="2084.7" r="6.4"/><circle cx="1629.6" cy="2131.6" r="6.4"/><circle cx="1631.3" cy="2163.3" r="6.4"/><circle cx="1633.2" cy="2104.4" r="6.4"/><circle cx="1635.1" cy="2049.7" r="6.4"/><circle cx="1637" cy="2030" r="6.4"/><circle cx="1638.6" cy="2061.4" r="6.4"/><circle cx="1640.3" cy="2012" r="6.4"/><circle cx="1642.6" cy="2041.7" r="6.4"/><circle cx="1644.3" cy="1973.2" r="6.4"/><circle cx="1646" cy="2004" r="6.4"/><circle cx="1647.9" cy="2011.1" r="6.4"/><circle cx="1649.9" cy="2050.3" r="6.4"/><circle cx="1651.7" cy="2087.7" r="6.4"/><circle cx="1653.4" cy="2038.8" r="6.4"/><circle cx="1655.3" cy="2060.8" r="6.4"/><circle cx="1659.1" cy="2077.2" r="6.4"/><circle cx="1661" cy="2133.1" r="6.4"/><circle cx="1664.9" cy="2061.4" r="6.4"/><circle cx="1664.9" cy="2078.2" r="6.4"/><circle cx="1666.4" cy="2004.7" r="6.4"/><circle cx="1669.7" cy="2084.9" r="6.4"/><circle cx="1672" cy="2073" r="6.4"/><circle cx="1673.9" cy="2118.9" r="6.4"/><circle cx="1675.8" cy="2091.2" r="6.4"/><circle cx="1677.5" cy="1964.9" r="6.4"/><circle cx="1679.4" cy="2055.3" r="6.4"/><circle cx="1681.5" cy="2125.6" r="6.4"/><circle cx="1683" cy="2044.2" r="6.4"/><circle cx="1685" cy="2162" r="6.4"/><circle cx="1686.9" cy="2235.4" r="6.4"/><circle cx="1688.6" cy="2203.1" r="6.4"/><circle cx="1690.5" cy="2140" r="6.4"/><circle cx="1692.4" cy="2190.5" r="6.4"/><circle cx="1694.3" cy="2117.8" r="6.4"/><circle cx="1695.9" cy="2058.3" r="6.4"/><circle cx="1698" cy="2173.1" r="6.4"/><circle cx="1707.2" cy="2207.5" r="6.4"/><circle cx="1709.1" cy="2152" r="6.4"/><circle cx="1710.8" cy="2164.5" r="6.4"/><circle cx="1712.3" cy="2124.7" r="6.4"/><circle cx="1714.4" cy="2110.7" r="6.4"/><circle cx="1716.5" cy="2096.4" r="6.4"/><circle cx="1718.4" cy="2119.9" r="6.4"/><circle cx="1720" cy="2146.5" r="6.4"/><circle cx="1721.9" cy="2137.1" r="6.4"/><circle cx="1723.2" cy="2061.4" r="6.4"/><circle cx="1725.1" cy="2053.2" r="6.4"/><circle cx="1728" cy="2139.4" r="6.4"/><circle cx="1729.5" cy="2064.1" r="6.4"/><circle cx="1731.3" cy="2036.5" r="6.4"/><circle cx="1733.2" cy="2142.8" r="6.4"/><circle cx="1735.1" cy="2051.8" r="6.4"/><circle cx="1736.8" cy="2114.9" r="6.4"/><circle cx="1738.5" cy="2156.6" r="6.4"/><circle cx="1740.8" cy="2119.7" r="6.4"/><circle cx="1743.3" cy="2158.9" r="6.4"/><circle cx="1744.3" cy="2047.8" r="6.4"/><circle cx="1746" cy="2142.3" r="6.4"/><circle cx="1747.9" cy="2018.1" r="6.4"/><circle cx="1749.6" cy="2062" r="6.4"/><circle cx="1751.5" cy="2096" r="6.4"/><circle cx="1753.5" cy="1999.8" r="6.4"/><circle cx="1755.2" cy="2108.6" r="6.4"/><circle cx="1757.7" cy="2040.1" r="6.4"/><circle cx="1757.7" cy="2095" r="6.4"/><circle cx="1760.9" cy="2074.7" r="6.4"/><circle cx="1763.4" cy="2040.3" r="6.4"/><circle cx="1764.7" cy="2112" r="6.4"/><circle cx="1766.3" cy="2133.7" r="6.4"/><circle cx="1768.2" cy="2145.7" r="6.4"/><circle cx="1770.1" cy="2070.9" r="6.4"/><circle cx="1772" cy="2159.1" r="6.4"/><circle cx="1773.4" cy="2197" r="6.4"/><circle cx="1775.8" cy="2138.1" r="6.4"/><circle cx="1777.8" cy="2185.1" r="6.4"/><circle cx="1779.1" cy="2088.5" r="6.4"/><circle cx="1781.2" cy="2237.9" r="6.4"/><circle cx="1783.5" cy="2197.9" r="6.4"/><circle cx="1784.8" cy="2122.8" r="6.4"/><circle cx="1786.7" cy="2146.1" r="6.4"/><circle cx="1788.5" cy="2104" r="6.4"/><circle cx="1790.6" cy="2139.4" r="6.4"/><circle cx="1792.1" cy="2081.4" r="6.4"/><circle cx="1794" cy="2059.5" r="6.4"/><circle cx="1795.9" cy="2099.8" r="6.4"/><circle cx="1797.8" cy="2055.1" r="6.4"/><circle cx="1800.7" cy="2100.6" r="6.4"/><circle cx="1801.7" cy="2078.2" r="6.4"/><circle cx="1803.6" cy="2110.7" r="6.4"/><circle cx="1805.5" cy="2115.9" r="6.4"/><circle cx="1807.4" cy="2088.7" r="6.4"/><circle cx="1809.3" cy="2081" r="6.4"/><circle cx="1810.7" cy="2065" r="6.4"/><circle cx="1812.8" cy="2010.5" r="6.4"/><circle cx="1814.7" cy="1916.2" r="6.4"/><circle cx="1816" cy="2054.7" r="6.4"/><circle cx="1818.3" cy="2100.9" r="6.4"/><circle cx="1820.2" cy="2229.7" r="6.4"/><circle cx="1822" cy="2046.1" r="6.4"/><circle cx="1823.7" cy="2080.5" r="6.4"/><circle cx="1825.6" cy="1982.4" r="6.4"/><circle cx="1827.5" cy="2029.2" r="6.4"/><circle cx="1829.4" cy="2076.8" r="6.4"/><circle cx="1831.3" cy="2135.2" r="6.4"/><circle cx="1833.2" cy="2006.3" r="6.4"/><circle cx="1834.8" cy="2054.5" r="6.4"/><circle cx="1836.7" cy="2087.2" r="6.4"/><circle cx="1839.9" cy="2066" r="6.4"/><circle cx="1842.4" cy="2068.5" r="6.4"/><circle cx="1843.8" cy="2053.2" r="6.4"/><circle cx="1846.1" cy="2101.3" r="6.4"/><circle cx="1848" cy="2130.8" r="6.4"/><circle cx="1849.9" cy="2085.4" r="6.4"/><circle cx="1851.6" cy="2049.9" r="6.4"/></g>
<path class="tk" d="M258 1827.05v-19M258 2464.6v19M302.42 1827.05v-10M302.42 2464.6v10M346.84 1827.05v-10M346.84 2464.6v10M391.26 1827.05v-19M391.26 2464.6v19M435.68 1827.05v-10M435.68 2464.6v10M480.1 1827.05v-10M480.1 2464.6v10M524.52 1827.05v-19M524.52 2464.6v19M568.94 1827.05v-10M568.94 2464.6v10M613.36 1827.05v-10M613.36 2464.6v10M657.78 1827.05v-19M657.78 2464.6v19M702.2 1827.05v-10M702.2 2464.6v10M746.62 1827.05v-10M746.62 2464.6v10M791.04 1827.05v-19M791.04 2464.6v19M835.46 1827.05v-10M835.46 2464.6v10M879.88 1827.05v-10M879.88 2464.6v10M924.3 1827.05v-19M924.3 2464.6v19M968.72 1827.05v-10M968.72 2464.6v10M1013.14 1827.05v-10M1013.14 2464.6v10M1057.56 1827.05v-19M1057.56 2464.6v19M1101.98 1827.05v-10M1101.98 2464.6v10M1146.4 1827.05v-10M1146.4 2464.6v10M1190.82 1827.05v-19M1190.82 2464.6v19M1235.24 1827.05v-10M1235.24 2464.6v10M1279.66 1827.05v-10M1279.66 2464.6v10M1324.08 1827.05v-19M1324.08 2464.6v19M1368.5 1827.05v-10M1368.5 2464.6v10M1412.92 1827.05v-10M1412.92 2464.6v10M1457.34 1827.05v-19M1457.34 2464.6v19M1501.76 1827.05v-10M1501.76 2464.6v10M1546.18 1827.05v-10M1546.18 2464.6v10M1590.6 1827.05v-19M1590.6 2464.6v19M1635.02 1827.05v-10M1635.02 2464.6v10M1679.44 1827.05v-10M1679.44 2464.6v10M1723.86 1827.05v-19M1723.86 2464.6v19M1768.28 1827.05v-10M1768.28 2464.6v10M1812.7 1827.05v-10M1812.7 2464.6v10M1857.12 1827.05v-19M1857.12 2464.6v19"/>
<path class="tk" style="stroke-width:2.5" d="M226 1879.22h-19M1883.6 1879.22h19M226 2016.4h-19M1883.6 2016.4h19M226 2153.57h-19M1883.6 2153.57h19M226 2290.75h-19M1883.6 2290.75h19M226 2427.92h-19M1883.6 2427.92h19"/>
<rect class="fr" x="226" y="1827.05" width="1657.6" height="637.55"/>
<text class="l b m" transform="translate(257.7 2531.5) scale(1 1.05)">0</text><text class="l b m" transform="translate(390.96 2531.5) scale(1 1.05)">6</text><text class="l b m" transform="translate(524.22 2531.5) scale(1 1.05)">12</text><text class="l b m" transform="translate(657.48 2531.5) scale(1 1.05)">18</text><text class="l b m" transform="translate(790.74 2531.5) scale(1 1.05)">24</text><text class="l b m" transform="translate(924 2531.5) scale(1 1.05)">30</text><text class="l b m" transform="translate(1057.26 2531.5) scale(1 1.05)">36</text><text class="l b m" transform="translate(1190.52 2531.5) scale(1 1.05)">42</text><text class="l b m" transform="translate(1323.78 2531.5) scale(1 1.05)">48</text><text class="l b m" transform="translate(1457.04 2531.5) scale(1 1.05)">54</text><text class="l b m" transform="translate(1590.3 2531.5) scale(1 1.05)">60</text><text class="l b m" transform="translate(1723.56 2531.5) scale(1 1.05)">66</text><text class="l b m" transform="translate(1856.82 2531.5) scale(1 1.05)">72</text>
<text class="l b e" transform="translate(190.9 1894.72) scale(1 1.05)">30</text><text class="l b e" transform="translate(190.9 2031.9) scale(1 1.05)">0</text><text class="l b e" transform="translate(190.9 2169.07) scale(1 1.05)"><tspan dy="4.6">−</tspan><tspan dy="-4.6">30</tspan></text><text class="l b e" transform="translate(190.9 2306.25) scale(1 1.05)"><tspan dy="4.6">−</tspan><tspan dy="-4.6">60</tspan></text><text class="l b e" transform="translate(190.9 2443.42) scale(1 1.05)"><tspan dy="4.6">−</tspan><tspan dy="-4.6">90</tspan></text>
<text class="l m" transform="translate(90.1 2145.82) rotate(-90) scale(1 1.035)">Up (mm)</text>
</g>
<text class="l m" transform="translate(1055.0 2589.9) scale(1 1.035)">Time (hours since beginning of first day UTC)</text>
<rect class="fr" x="226" y="2694.2" width="1657.6" height="152.8" style="stroke-width:5.4"/>
<text class="l b m" transform="translate(1055.0 2732.8) scale(1 1.035)">Processed Using JPL Rapid Orbits</text>
<text class="l b m" transform="translate(1055.0 2773.3) scale(1 1.035)">by the Nevada Geodetic Laboratory.</text>
<text class="l b m" transform="translate(1055.0 2813.9) scale(1 1.035)">Plotted on 2026-Jan-11.</text>
</svg>
</body>
</html>
